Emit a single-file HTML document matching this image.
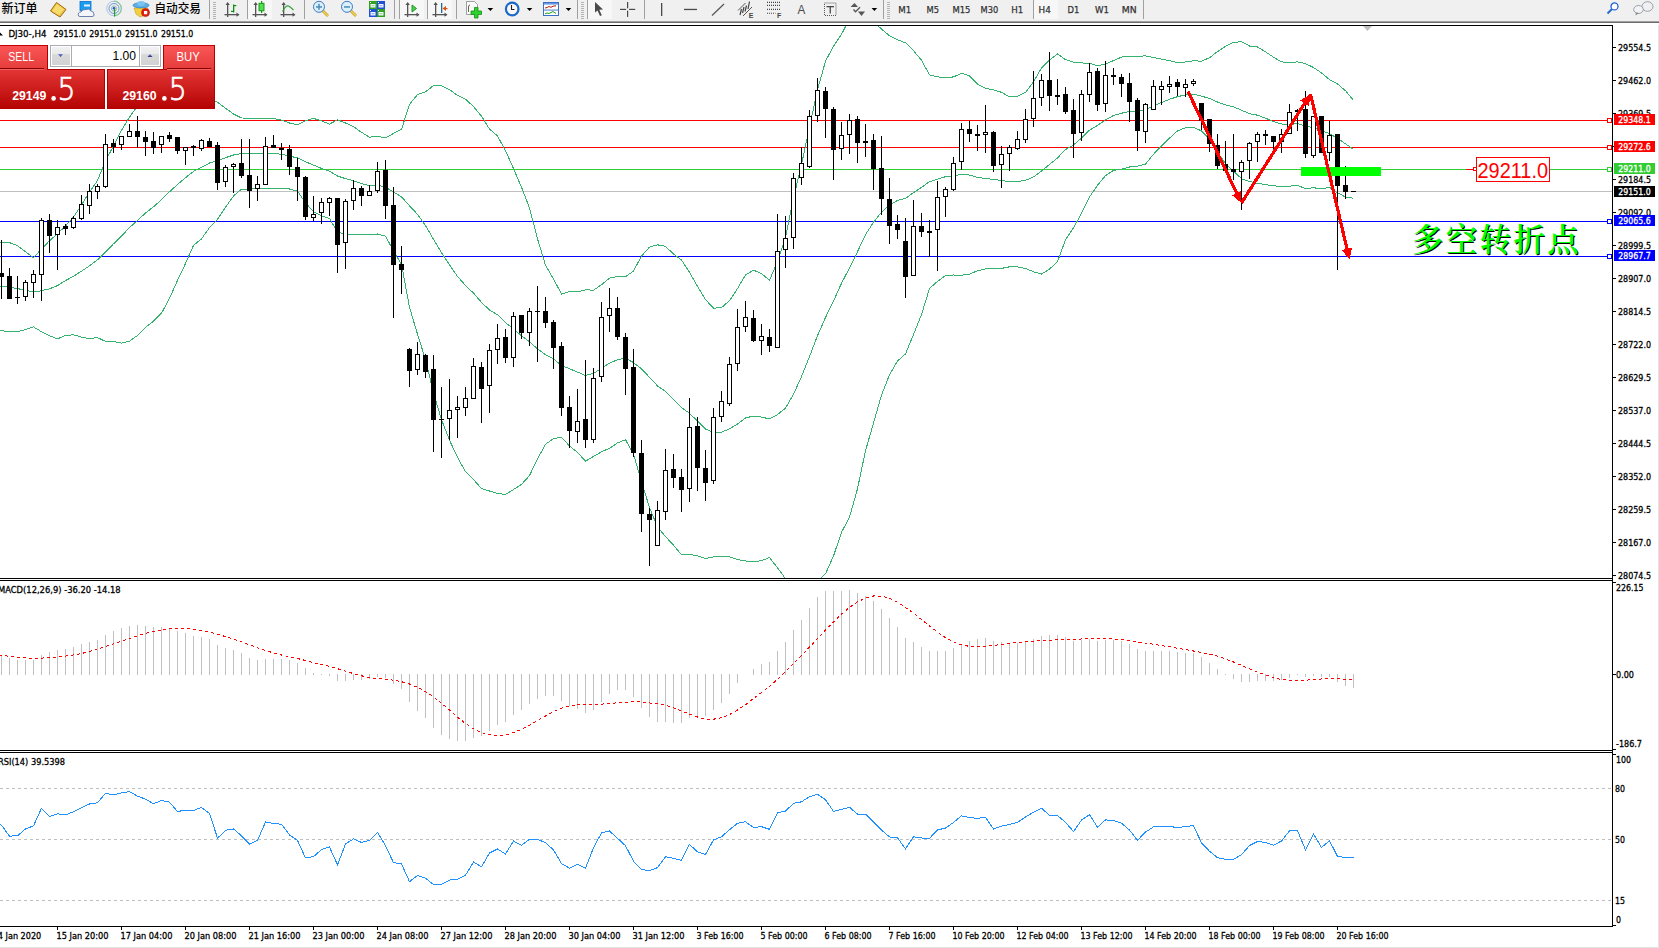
<!DOCTYPE html>
<html><head><meta charset="utf-8"><title>DJ30-,H4</title><style>html,body{margin:0;padding:0;background:#fff;overflow:hidden;width:1659px;height:948px;position:relative}</style></head><body>
<svg width="1659" height="948" viewBox="0 0 1659 948" style="position:absolute;left:0;top:0;display:block">
<rect x="0" y="0" width="1659" height="948" fill="#ffffff"/>
<defs><clipPath id="cm"><rect x="0" y="26" width="1612" height="552"/></clipPath><clipPath id="cd"><rect x="0" y="581" width="1612" height="169"/></clipPath><clipPath id="cr"><rect x="0" y="753" width="1612" height="173"/></clipPath><clipPath id="ct"><rect x="0" y="926" width="1658" height="21"/></clipPath></defs>
<g clip-path="url(#cm)" shape-rendering="crispEdges">
<rect x="0" y="120" width="1607" height="1" fill="#ff0000"/>
<rect x="0" y="147" width="1607" height="1" fill="#ff0000"/>
<rect x="0" y="169" width="1607" height="1" fill="#32cd32"/>
<rect x="0" y="191" width="1612" height="1" fill="#c0c0c0"/>
<rect x="0" y="221" width="1607" height="1" fill="#0000ff"/>
<rect x="0" y="256" width="1607" height="1" fill="#0000ff"/>
<polyline points="-6.5,242.1 1.5,242.1 9.5,242.6 17.5,245.6 25.5,251.8 33.5,257.7 41.5,248.9 49.5,240.8 57.5,233.7 65.5,225.9 73.5,217.1 81.5,205.0 89.5,191.9 97.5,180.6 105.5,160.7 113.5,146.0 121.5,130.4 129.5,117.1 137.5,106.2 145.5,98.7 153.5,92.6 161.5,86.5 169.5,85.3 177.5,88.6 185.5,92.0 193.5,97.4 201.5,95.9 209.5,98.4 217.5,102.3 225.5,108.2 233.5,114.0 241.5,118.0 249.5,118.1 257.5,118.4 265.5,118.5 273.5,118.6 281.5,120.1 289.5,123.0 297.5,124.8 305.5,120.6 313.5,118.4 321.5,120.8 329.5,124.1 337.5,119.8 345.5,123.0 353.5,126.7 361.5,132.3 369.5,137.2 377.5,136.2 385.5,138.0 393.5,133.4 401.5,129.4 409.5,104.4 417.5,94.5 425.5,91.8 433.5,85.6 441.5,85.9 449.5,89.6 457.5,95.4 465.5,99.2 473.5,106.5 481.5,116.2 489.5,129.1 497.5,135.9 505.5,150.7 513.5,168.6 521.5,187.2 529.5,208.0 537.5,238.8 545.5,265.2 553.5,279.0 561.5,294.0 569.5,291.5 577.5,291.8 585.5,289.8 593.5,290.2 601.5,284.7 609.5,278.1 617.5,276.4 625.5,276.7 633.5,271.0 641.5,256.1 649.5,247.1 657.5,244.8 665.5,246.4 673.5,254.0 681.5,260.0 689.5,272.3 697.5,286.3 705.5,299.5 713.5,308.2 721.5,307.6 729.5,300.7 737.5,288.6 745.5,275.0 753.5,270.2 761.5,273.6 769.5,280.3 777.5,261.5 785.5,237.4 793.5,198.0 801.5,164.6 809.5,126.9 817.5,89.9 825.5,61.2 833.5,46.2 841.5,34.4 849.5,18.6 857.5,14.6 865.5,18.6 873.5,21.6 881.5,29.1 889.5,35.7 897.5,39.8 905.5,42.8 913.5,50.7 921.5,60.2 929.5,74.9 937.5,76.8 945.5,77.8 953.5,76.9 961.5,73.3 969.5,75.9 977.5,84.2 985.5,88.3 993.5,89.9 1001.5,92.3 1009.5,96.8 1017.5,96.3 1025.5,92.4 1033.5,82.0 1041.5,67.9 1049.5,59.9 1057.5,53.9 1065.5,59.6 1073.5,62.2 1081.5,62.9 1089.5,63.4 1097.5,65.7 1105.5,64.0 1113.5,60.6 1121.5,57.1 1129.5,56.2 1137.5,56.4 1145.5,55.8 1153.5,57.6 1161.5,59.1 1169.5,60.6 1177.5,62.5 1185.5,62.0 1193.5,60.7 1201.5,61.3 1209.5,57.7 1217.5,51.6 1225.5,46.3 1233.5,42.4 1241.5,41.7 1249.5,46.0 1257.5,47.0 1265.5,51.9 1273.5,57.2 1281.5,61.8 1289.5,62.9 1297.5,61.8 1305.5,63.6 1313.5,67.5 1321.5,72.9 1329.5,79.6 1337.5,84.0 1345.5,90.7 1353.5,100.5" fill="none" stroke="#35b36e" stroke-width="1"/>
<polyline points="-6.5,286.0 1.5,286.0 9.5,287.2 17.5,288.6 25.5,290.3 33.5,292.0 41.5,290.7 49.5,288.8 57.5,285.6 65.5,280.6 73.5,276.2 81.5,271.2 89.5,265.9 97.5,259.8 105.5,252.0 113.5,243.8 121.5,236.1 129.5,227.6 137.5,220.5 145.5,213.0 153.5,206.8 161.5,199.8 169.5,191.8 177.5,184.5 185.5,177.7 193.5,171.4 201.5,167.4 209.5,163.0 217.5,160.8 225.5,157.7 233.5,155.0 241.5,153.6 249.5,153.5 257.5,153.4 265.5,153.5 273.5,153.6 281.5,154.2 289.5,156.0 297.5,158.0 305.5,161.7 313.5,165.1 321.5,168.4 329.5,171.3 337.5,176.0 345.5,178.7 353.5,180.7 361.5,183.5 369.5,185.7 377.5,185.1 385.5,187.0 393.5,192.1 401.5,196.8 409.5,205.8 417.5,214.3 425.5,225.6 433.5,239.2 441.5,252.8 449.5,264.9 457.5,276.4 465.5,285.5 473.5,293.1 481.5,302.4 489.5,310.0 497.5,314.7 505.5,322.6 513.5,329.0 521.5,335.8 529.5,341.8 537.5,348.8 545.5,354.7 553.5,358.8 561.5,365.7 569.5,368.7 577.5,372.1 585.5,375.5 593.5,373.4 601.5,368.3 609.5,363.2 617.5,359.7 625.5,358.2 633.5,362.6 641.5,368.8 649.5,377.3 657.5,385.9 665.5,391.5 673.5,399.6 681.5,407.5 689.5,413.3 697.5,421.1 705.5,429.0 713.5,432.5 721.5,432.2 729.5,428.8 737.5,424.1 745.5,417.9 753.5,416.1 761.5,417.1 769.5,418.9 777.5,414.6 785.5,408.1 793.5,394.3 801.5,376.7 809.5,356.6 817.5,335.6 825.5,317.5 833.5,301.1 841.5,283.3 849.5,267.9 857.5,251.7 865.5,234.7 873.5,222.3 881.5,212.1 889.5,205.2 897.5,200.4 905.5,198.4 913.5,192.6 921.5,187.4 929.5,181.7 937.5,179.1 945.5,176.7 953.5,175.9 961.5,174.2 969.5,175.1 977.5,177.4 985.5,178.6 993.5,179.4 1001.5,180.4 1009.5,181.8 1017.5,181.6 1025.5,180.4 1033.5,176.9 1041.5,171.0 1049.5,164.5 1057.5,157.9 1065.5,149.6 1073.5,145.0 1081.5,138.1 1089.5,130.1 1097.5,125.5 1105.5,119.8 1113.5,115.5 1121.5,113.2 1129.5,111.6 1137.5,111.3 1145.5,109.9 1153.5,105.9 1161.5,102.5 1169.5,99.3 1177.5,96.7 1185.5,94.9 1193.5,94.1 1201.5,96.1 1209.5,98.5 1217.5,102.0 1225.5,104.9 1233.5,106.8 1241.5,110.2 1249.5,113.7 1257.5,115.2 1265.5,118.2 1273.5,121.5 1281.5,124.0 1289.5,124.6 1297.5,123.6 1305.5,126.1 1313.5,127.6 1321.5,130.9 1329.5,133.5 1337.5,138.4 1345.5,143.8 1353.5,149.3" fill="none" stroke="#35b36e" stroke-width="1"/>
<polyline points="-6.5,330.7 1.5,330.7 9.5,331.6 17.5,331.8 25.5,329.6 33.5,326.9 41.5,331.7 49.5,335.8 57.5,338.9 65.5,335.5 73.5,334.8 81.5,337.1 89.5,338.6 97.5,337.6 105.5,341.4 113.5,341.4 121.5,343.1 129.5,341.3 137.5,335.4 145.5,327.4 153.5,321.1 161.5,313.2 169.5,298.4 177.5,280.3 185.5,263.5 193.5,245.4 201.5,238.9 209.5,227.6 217.5,219.2 225.5,207.2 233.5,196.0 241.5,189.1 249.5,189.0 257.5,188.5 265.5,188.5 273.5,188.5 281.5,188.4 289.5,189.0 297.5,191.1 305.5,202.9 313.5,211.7 321.5,215.9 329.5,218.5 337.5,232.2 345.5,234.3 353.5,234.7 361.5,234.6 369.5,234.2 377.5,234.0 385.5,236.1 393.5,250.8 401.5,264.3 409.5,307.3 417.5,334.2 425.5,359.5 433.5,392.9 441.5,419.6 449.5,440.2 457.5,457.4 465.5,471.8 473.5,479.6 481.5,488.6 489.5,491.0 497.5,493.5 505.5,494.4 513.5,489.5 521.5,484.4 529.5,475.6 537.5,458.9 545.5,444.3 553.5,438.7 561.5,437.3 569.5,446.0 577.5,452.4 585.5,461.2 593.5,456.5 601.5,451.8 609.5,448.3 617.5,442.9 625.5,439.7 633.5,454.1 641.5,481.6 649.5,507.5 657.5,527.0 665.5,536.6 673.5,545.2 681.5,554.9 689.5,554.2 697.5,555.9 705.5,558.6 713.5,556.9 721.5,556.8 729.5,556.9 737.5,559.6 745.5,560.9 753.5,561.9 761.5,560.5 769.5,557.6 777.5,567.8 785.5,578.7 793.5,590.5 801.5,588.9 809.5,586.2 817.5,581.2 825.5,573.8 833.5,556.0 841.5,532.3 849.5,517.3 857.5,488.8 865.5,450.8 873.5,422.9 881.5,395.2 889.5,374.7 897.5,361.0 905.5,353.9 913.5,334.6 921.5,314.6 929.5,288.5 937.5,281.4 945.5,275.5 953.5,275.0 961.5,275.2 969.5,274.3 977.5,270.7 985.5,268.9 993.5,269.0 1001.5,268.4 1009.5,266.8 1017.5,266.9 1025.5,268.4 1033.5,271.8 1041.5,274.0 1049.5,269.1 1057.5,261.8 1065.5,239.6 1073.5,227.9 1081.5,213.4 1089.5,196.9 1097.5,185.3 1105.5,175.6 1113.5,170.4 1121.5,169.3 1129.5,167.0 1137.5,166.2 1145.5,164.0 1153.5,154.3 1161.5,145.9 1169.5,138.1 1177.5,130.9 1185.5,127.8 1193.5,127.4 1201.5,130.9 1209.5,139.3 1217.5,152.3 1225.5,163.5 1233.5,171.1 1241.5,178.7 1249.5,181.4 1257.5,183.4 1265.5,184.5 1273.5,185.9 1281.5,186.3 1289.5,186.2 1297.5,185.4 1305.5,188.6 1313.5,187.7 1321.5,188.9 1329.5,187.3 1337.5,192.8 1345.5,197.0 1353.5,198.2" fill="none" stroke="#35b36e" stroke-width="1"/>
<rect x="1" y="240" width="1" height="59" fill="#000"/>
<rect x="-1" y="273" width="5" height="4" fill="#000"/>
<rect x="9" y="268" width="1" height="31" fill="#000"/>
<rect x="7" y="276" width="5" height="23" fill="#000"/>
<rect x="17" y="276" width="1" height="28" fill="#000"/>
<rect x="15" y="297" width="5" height="1" fill="#000"/>
<rect x="25" y="280" width="1" height="21" fill="#000"/>
<rect x="23" y="282" width="5" height="15" fill="#000"/>
<rect x="24" y="283" width="3" height="13" fill="#fff"/>
<rect x="33" y="270" width="1" height="28" fill="#000"/>
<rect x="31" y="274" width="5" height="9" fill="#000"/>
<rect x="32" y="275" width="3" height="7" fill="#fff"/>
<rect x="41" y="218" width="1" height="83" fill="#000"/>
<rect x="39" y="220" width="5" height="55" fill="#000"/>
<rect x="40" y="221" width="3" height="53" fill="#fff"/>
<rect x="49" y="214" width="1" height="39" fill="#000"/>
<rect x="47" y="220" width="5" height="16" fill="#000"/>
<rect x="57" y="220" width="1" height="50" fill="#000"/>
<rect x="55" y="227" width="5" height="8" fill="#000"/>
<rect x="56" y="228" width="3" height="6" fill="#fff"/>
<rect x="65" y="224" width="1" height="11" fill="#000"/>
<rect x="63" y="226" width="5" height="3" fill="#000"/>
<rect x="73" y="216" width="1" height="13" fill="#000"/>
<rect x="71" y="218" width="5" height="10" fill="#000"/>
<rect x="72" y="219" width="3" height="8" fill="#fff"/>
<rect x="81" y="195" width="1" height="25" fill="#000"/>
<rect x="79" y="204" width="5" height="15" fill="#000"/>
<rect x="80" y="205" width="3" height="13" fill="#fff"/>
<rect x="89" y="184" width="1" height="30" fill="#000"/>
<rect x="87" y="191" width="5" height="15" fill="#000"/>
<rect x="88" y="192" width="3" height="13" fill="#fff"/>
<rect x="97" y="184" width="1" height="15" fill="#000"/>
<rect x="95" y="186" width="5" height="6" fill="#000"/>
<rect x="96" y="187" width="3" height="4" fill="#fff"/>
<rect x="105" y="134" width="1" height="54" fill="#000"/>
<rect x="103" y="144" width="5" height="43" fill="#000"/>
<rect x="104" y="145" width="3" height="41" fill="#fff"/>
<rect x="113" y="139" width="1" height="14" fill="#000"/>
<rect x="111" y="143" width="5" height="4" fill="#000"/>
<rect x="121" y="136" width="1" height="14" fill="#000"/>
<rect x="119" y="136" width="5" height="9" fill="#000"/>
<rect x="120" y="137" width="3" height="7" fill="#fff"/>
<rect x="129" y="124" width="1" height="13" fill="#000"/>
<rect x="127" y="131" width="5" height="6" fill="#000"/>
<rect x="128" y="132" width="3" height="4" fill="#fff"/>
<rect x="137" y="116" width="1" height="32" fill="#000"/>
<rect x="135" y="131" width="5" height="6" fill="#000"/>
<rect x="145" y="131" width="1" height="25" fill="#000"/>
<rect x="143" y="137" width="5" height="5" fill="#000"/>
<rect x="153" y="132" width="1" height="22" fill="#000"/>
<rect x="151" y="141" width="5" height="7" fill="#000"/>
<rect x="161" y="136" width="1" height="17" fill="#000"/>
<rect x="159" y="136" width="5" height="9" fill="#000"/>
<rect x="160" y="137" width="3" height="7" fill="#fff"/>
<rect x="169" y="132" width="1" height="10" fill="#000"/>
<rect x="167" y="135" width="5" height="4" fill="#000"/>
<rect x="177" y="137" width="1" height="17" fill="#000"/>
<rect x="175" y="137" width="5" height="14" fill="#000"/>
<rect x="185" y="147" width="1" height="18" fill="#000"/>
<rect x="183" y="147" width="5" height="4" fill="#000"/>
<rect x="184" y="148" width="3" height="2" fill="#fff"/>
<rect x="193" y="145" width="1" height="11" fill="#000"/>
<rect x="191" y="146" width="5" height="2" fill="#000"/>
<rect x="201" y="139" width="1" height="12" fill="#000"/>
<rect x="199" y="140" width="5" height="9" fill="#000"/>
<rect x="200" y="141" width="3" height="7" fill="#fff"/>
<rect x="209" y="138" width="1" height="9" fill="#000"/>
<rect x="207" y="141" width="5" height="6" fill="#000"/>
<rect x="217" y="142" width="1" height="48" fill="#000"/>
<rect x="215" y="145" width="5" height="38" fill="#000"/>
<rect x="225" y="165" width="1" height="22" fill="#000"/>
<rect x="223" y="167" width="5" height="15" fill="#000"/>
<rect x="224" y="168" width="3" height="13" fill="#fff"/>
<rect x="233" y="163" width="1" height="30" fill="#000"/>
<rect x="231" y="164" width="5" height="3" fill="#000"/>
<rect x="232" y="165" width="3" height="1" fill="#fff"/>
<rect x="241" y="139" width="1" height="39" fill="#000"/>
<rect x="239" y="163" width="5" height="13" fill="#000"/>
<rect x="249" y="139" width="1" height="69" fill="#000"/>
<rect x="247" y="175" width="5" height="16" fill="#000"/>
<rect x="257" y="176" width="1" height="25" fill="#000"/>
<rect x="255" y="184" width="5" height="5" fill="#000"/>
<rect x="256" y="185" width="3" height="3" fill="#fff"/>
<rect x="265" y="137" width="1" height="48" fill="#000"/>
<rect x="263" y="146" width="5" height="39" fill="#000"/>
<rect x="264" y="147" width="3" height="37" fill="#fff"/>
<rect x="273" y="135" width="1" height="13" fill="#000"/>
<rect x="271" y="145" width="5" height="3" fill="#000"/>
<rect x="281" y="143" width="1" height="17" fill="#000"/>
<rect x="279" y="148" width="5" height="2" fill="#000"/>
<rect x="289" y="145" width="1" height="30" fill="#000"/>
<rect x="287" y="149" width="5" height="18" fill="#000"/>
<rect x="297" y="158" width="1" height="43" fill="#000"/>
<rect x="295" y="167" width="5" height="10" fill="#000"/>
<rect x="305" y="176" width="1" height="44" fill="#000"/>
<rect x="303" y="177" width="5" height="40" fill="#000"/>
<rect x="313" y="196" width="1" height="25" fill="#000"/>
<rect x="311" y="214" width="5" height="4" fill="#000"/>
<rect x="312" y="215" width="3" height="2" fill="#fff"/>
<rect x="321" y="198" width="1" height="26" fill="#000"/>
<rect x="319" y="202" width="5" height="11" fill="#000"/>
<rect x="320" y="203" width="3" height="9" fill="#fff"/>
<rect x="329" y="197" width="1" height="19" fill="#000"/>
<rect x="327" y="198" width="5" height="5" fill="#000"/>
<rect x="328" y="199" width="3" height="3" fill="#fff"/>
<rect x="337" y="198" width="1" height="75" fill="#000"/>
<rect x="335" y="198" width="5" height="47" fill="#000"/>
<rect x="345" y="199" width="1" height="70" fill="#000"/>
<rect x="343" y="201" width="5" height="42" fill="#000"/>
<rect x="344" y="202" width="3" height="40" fill="#fff"/>
<rect x="353" y="180" width="1" height="30" fill="#000"/>
<rect x="351" y="188" width="5" height="13" fill="#000"/>
<rect x="352" y="189" width="3" height="11" fill="#fff"/>
<rect x="361" y="186" width="1" height="20" fill="#000"/>
<rect x="359" y="188" width="5" height="8" fill="#000"/>
<rect x="369" y="185" width="1" height="11" fill="#000"/>
<rect x="367" y="191" width="5" height="5" fill="#000"/>
<rect x="368" y="192" width="3" height="3" fill="#fff"/>
<rect x="377" y="162" width="1" height="31" fill="#000"/>
<rect x="375" y="171" width="5" height="20" fill="#000"/>
<rect x="376" y="172" width="3" height="18" fill="#fff"/>
<rect x="385" y="160" width="1" height="59" fill="#000"/>
<rect x="383" y="170" width="5" height="36" fill="#000"/>
<rect x="393" y="187" width="1" height="131" fill="#000"/>
<rect x="391" y="205" width="5" height="60" fill="#000"/>
<rect x="401" y="246" width="1" height="48" fill="#000"/>
<rect x="399" y="264" width="5" height="6" fill="#000"/>
<rect x="409" y="348" width="1" height="39" fill="#000"/>
<rect x="407" y="349" width="5" height="22" fill="#000"/>
<rect x="417" y="342" width="1" height="33" fill="#000"/>
<rect x="415" y="354" width="5" height="16" fill="#000"/>
<rect x="416" y="355" width="3" height="14" fill="#fff"/>
<rect x="425" y="354" width="1" height="24" fill="#000"/>
<rect x="423" y="355" width="5" height="17" fill="#000"/>
<rect x="433" y="355" width="1" height="97" fill="#000"/>
<rect x="431" y="369" width="5" height="51" fill="#000"/>
<rect x="441" y="387" width="1" height="71" fill="#000"/>
<rect x="439" y="419" width="5" height="1" fill="#000"/>
<rect x="449" y="379" width="1" height="61" fill="#000"/>
<rect x="447" y="410" width="5" height="9" fill="#000"/>
<rect x="448" y="411" width="3" height="7" fill="#fff"/>
<rect x="457" y="396" width="1" height="42" fill="#000"/>
<rect x="455" y="407" width="5" height="3" fill="#000"/>
<rect x="456" y="408" width="3" height="1" fill="#fff"/>
<rect x="465" y="387" width="1" height="29" fill="#000"/>
<rect x="463" y="398" width="5" height="10" fill="#000"/>
<rect x="464" y="399" width="3" height="8" fill="#fff"/>
<rect x="473" y="358" width="1" height="41" fill="#000"/>
<rect x="471" y="366" width="5" height="33" fill="#000"/>
<rect x="472" y="367" width="3" height="31" fill="#fff"/>
<rect x="481" y="362" width="1" height="61" fill="#000"/>
<rect x="479" y="367" width="5" height="22" fill="#000"/>
<rect x="489" y="344" width="1" height="69" fill="#000"/>
<rect x="487" y="350" width="5" height="36" fill="#000"/>
<rect x="488" y="351" width="3" height="34" fill="#fff"/>
<rect x="497" y="324" width="1" height="40" fill="#000"/>
<rect x="495" y="338" width="5" height="12" fill="#000"/>
<rect x="496" y="339" width="3" height="10" fill="#fff"/>
<rect x="505" y="329" width="1" height="34" fill="#000"/>
<rect x="503" y="337" width="5" height="21" fill="#000"/>
<rect x="513" y="312" width="1" height="55" fill="#000"/>
<rect x="511" y="316" width="5" height="42" fill="#000"/>
<rect x="512" y="317" width="3" height="40" fill="#fff"/>
<rect x="521" y="315" width="1" height="24" fill="#000"/>
<rect x="519" y="315" width="5" height="18" fill="#000"/>
<rect x="529" y="308" width="1" height="38" fill="#000"/>
<rect x="527" y="311" width="5" height="22" fill="#000"/>
<rect x="528" y="312" width="3" height="20" fill="#fff"/>
<rect x="537" y="286" width="1" height="76" fill="#000"/>
<rect x="535" y="311" width="5" height="1" fill="#000"/>
<rect x="545" y="297" width="1" height="31" fill="#000"/>
<rect x="543" y="311" width="5" height="12" fill="#000"/>
<rect x="553" y="320" width="1" height="49" fill="#000"/>
<rect x="551" y="322" width="5" height="26" fill="#000"/>
<rect x="561" y="342" width="1" height="74" fill="#000"/>
<rect x="559" y="346" width="5" height="62" fill="#000"/>
<rect x="569" y="396" width="1" height="52" fill="#000"/>
<rect x="567" y="407" width="5" height="24" fill="#000"/>
<rect x="577" y="389" width="1" height="54" fill="#000"/>
<rect x="575" y="421" width="5" height="11" fill="#000"/>
<rect x="576" y="422" width="3" height="9" fill="#fff"/>
<rect x="585" y="360" width="1" height="88" fill="#000"/>
<rect x="583" y="419" width="5" height="21" fill="#000"/>
<rect x="593" y="368" width="1" height="75" fill="#000"/>
<rect x="591" y="378" width="5" height="62" fill="#000"/>
<rect x="592" y="379" width="3" height="60" fill="#fff"/>
<rect x="601" y="302" width="1" height="80" fill="#000"/>
<rect x="599" y="317" width="5" height="60" fill="#000"/>
<rect x="600" y="318" width="3" height="58" fill="#fff"/>
<rect x="609" y="288" width="1" height="44" fill="#000"/>
<rect x="607" y="308" width="5" height="8" fill="#000"/>
<rect x="608" y="309" width="3" height="6" fill="#fff"/>
<rect x="617" y="297" width="1" height="43" fill="#000"/>
<rect x="615" y="308" width="5" height="29" fill="#000"/>
<rect x="625" y="333" width="1" height="62" fill="#000"/>
<rect x="623" y="337" width="5" height="32" fill="#000"/>
<rect x="633" y="349" width="1" height="108" fill="#000"/>
<rect x="631" y="367" width="5" height="86" fill="#000"/>
<rect x="641" y="440" width="1" height="92" fill="#000"/>
<rect x="639" y="453" width="5" height="61" fill="#000"/>
<rect x="649" y="508" width="1" height="58" fill="#000"/>
<rect x="647" y="514" width="5" height="6" fill="#000"/>
<rect x="657" y="501" width="1" height="45" fill="#000"/>
<rect x="655" y="510" width="5" height="36" fill="#000"/>
<rect x="656" y="511" width="3" height="34" fill="#fff"/>
<rect x="665" y="449" width="1" height="71" fill="#000"/>
<rect x="663" y="470" width="5" height="42" fill="#000"/>
<rect x="664" y="471" width="3" height="40" fill="#fff"/>
<rect x="673" y="454" width="1" height="34" fill="#000"/>
<rect x="671" y="469" width="5" height="9" fill="#000"/>
<rect x="681" y="469" width="1" height="43" fill="#000"/>
<rect x="679" y="477" width="5" height="13" fill="#000"/>
<rect x="689" y="398" width="1" height="104" fill="#000"/>
<rect x="687" y="427" width="5" height="62" fill="#000"/>
<rect x="688" y="428" width="3" height="60" fill="#fff"/>
<rect x="697" y="417" width="1" height="74" fill="#000"/>
<rect x="695" y="426" width="5" height="42" fill="#000"/>
<rect x="705" y="450" width="1" height="51" fill="#000"/>
<rect x="703" y="468" width="5" height="15" fill="#000"/>
<rect x="713" y="408" width="1" height="76" fill="#000"/>
<rect x="711" y="417" width="5" height="64" fill="#000"/>
<rect x="712" y="418" width="3" height="62" fill="#fff"/>
<rect x="721" y="391" width="1" height="31" fill="#000"/>
<rect x="719" y="401" width="5" height="16" fill="#000"/>
<rect x="720" y="402" width="3" height="14" fill="#fff"/>
<rect x="729" y="357" width="1" height="49" fill="#000"/>
<rect x="727" y="364" width="5" height="40" fill="#000"/>
<rect x="728" y="365" width="3" height="38" fill="#fff"/>
<rect x="737" y="309" width="1" height="62" fill="#000"/>
<rect x="735" y="327" width="5" height="37" fill="#000"/>
<rect x="736" y="328" width="3" height="35" fill="#fff"/>
<rect x="745" y="301" width="1" height="31" fill="#000"/>
<rect x="743" y="317" width="5" height="10" fill="#000"/>
<rect x="744" y="318" width="3" height="8" fill="#fff"/>
<rect x="753" y="310" width="1" height="32" fill="#000"/>
<rect x="751" y="318" width="5" height="23" fill="#000"/>
<rect x="761" y="324" width="1" height="31" fill="#000"/>
<rect x="759" y="336" width="5" height="5" fill="#000"/>
<rect x="760" y="337" width="3" height="3" fill="#fff"/>
<rect x="769" y="329" width="1" height="23" fill="#000"/>
<rect x="767" y="337" width="5" height="9" fill="#000"/>
<rect x="777" y="214" width="1" height="134" fill="#000"/>
<rect x="775" y="251" width="5" height="97" fill="#000"/>
<rect x="776" y="252" width="3" height="95" fill="#fff"/>
<rect x="785" y="216" width="1" height="52" fill="#000"/>
<rect x="783" y="238" width="5" height="12" fill="#000"/>
<rect x="784" y="239" width="3" height="10" fill="#fff"/>
<rect x="793" y="173" width="1" height="76" fill="#000"/>
<rect x="791" y="178" width="5" height="60" fill="#000"/>
<rect x="792" y="179" width="3" height="58" fill="#fff"/>
<rect x="801" y="147" width="1" height="38" fill="#000"/>
<rect x="799" y="163" width="5" height="15" fill="#000"/>
<rect x="800" y="164" width="3" height="13" fill="#fff"/>
<rect x="809" y="110" width="1" height="58" fill="#000"/>
<rect x="807" y="116" width="5" height="51" fill="#000"/>
<rect x="808" y="117" width="3" height="49" fill="#fff"/>
<rect x="817" y="78" width="1" height="44" fill="#000"/>
<rect x="815" y="90" width="5" height="26" fill="#000"/>
<rect x="816" y="91" width="3" height="24" fill="#fff"/>
<rect x="825" y="87" width="1" height="51" fill="#000"/>
<rect x="823" y="91" width="5" height="18" fill="#000"/>
<rect x="833" y="107" width="1" height="73" fill="#000"/>
<rect x="831" y="109" width="5" height="41" fill="#000"/>
<rect x="841" y="122" width="1" height="38" fill="#000"/>
<rect x="839" y="135" width="5" height="14" fill="#000"/>
<rect x="840" y="136" width="3" height="12" fill="#fff"/>
<rect x="849" y="114" width="1" height="40" fill="#000"/>
<rect x="847" y="120" width="5" height="15" fill="#000"/>
<rect x="848" y="121" width="3" height="13" fill="#fff"/>
<rect x="857" y="116" width="1" height="47" fill="#000"/>
<rect x="855" y="119" width="5" height="24" fill="#000"/>
<rect x="865" y="124" width="1" height="33" fill="#000"/>
<rect x="863" y="141" width="5" height="2" fill="#000"/>
<rect x="873" y="134" width="1" height="56" fill="#000"/>
<rect x="871" y="140" width="5" height="29" fill="#000"/>
<rect x="881" y="136" width="1" height="79" fill="#000"/>
<rect x="879" y="168" width="5" height="31" fill="#000"/>
<rect x="889" y="178" width="1" height="66" fill="#000"/>
<rect x="887" y="199" width="5" height="27" fill="#000"/>
<rect x="897" y="215" width="1" height="24" fill="#000"/>
<rect x="895" y="224" width="5" height="6" fill="#000"/>
<rect x="905" y="218" width="1" height="80" fill="#000"/>
<rect x="903" y="241" width="5" height="36" fill="#000"/>
<rect x="913" y="200" width="1" height="76" fill="#000"/>
<rect x="911" y="226" width="5" height="50" fill="#000"/>
<rect x="912" y="227" width="3" height="48" fill="#fff"/>
<rect x="921" y="213" width="1" height="24" fill="#000"/>
<rect x="919" y="226" width="5" height="6" fill="#000"/>
<rect x="929" y="220" width="1" height="37" fill="#000"/>
<rect x="927" y="231" width="5" height="2" fill="#000"/>
<rect x="937" y="181" width="1" height="90" fill="#000"/>
<rect x="935" y="197" width="5" height="33" fill="#000"/>
<rect x="936" y="198" width="3" height="31" fill="#fff"/>
<rect x="945" y="187" width="1" height="30" fill="#000"/>
<rect x="943" y="189" width="5" height="8" fill="#000"/>
<rect x="944" y="190" width="3" height="6" fill="#fff"/>
<rect x="953" y="157" width="1" height="34" fill="#000"/>
<rect x="951" y="163" width="5" height="27" fill="#000"/>
<rect x="952" y="164" width="3" height="25" fill="#fff"/>
<rect x="961" y="123" width="1" height="47" fill="#000"/>
<rect x="959" y="129" width="5" height="33" fill="#000"/>
<rect x="960" y="130" width="3" height="31" fill="#fff"/>
<rect x="969" y="121" width="1" height="21" fill="#000"/>
<rect x="967" y="129" width="5" height="5" fill="#000"/>
<rect x="977" y="125" width="1" height="26" fill="#000"/>
<rect x="975" y="134" width="5" height="2" fill="#000"/>
<rect x="985" y="105" width="1" height="48" fill="#000"/>
<rect x="983" y="132" width="5" height="3" fill="#000"/>
<rect x="984" y="133" width="3" height="1" fill="#fff"/>
<rect x="993" y="131" width="1" height="41" fill="#000"/>
<rect x="991" y="132" width="5" height="34" fill="#000"/>
<rect x="1001" y="146" width="1" height="42" fill="#000"/>
<rect x="999" y="154" width="5" height="11" fill="#000"/>
<rect x="1000" y="155" width="3" height="9" fill="#fff"/>
<rect x="1009" y="145" width="1" height="26" fill="#000"/>
<rect x="1007" y="147" width="5" height="7" fill="#000"/>
<rect x="1008" y="148" width="3" height="5" fill="#fff"/>
<rect x="1017" y="131" width="1" height="19" fill="#000"/>
<rect x="1015" y="139" width="5" height="10" fill="#000"/>
<rect x="1016" y="140" width="3" height="8" fill="#fff"/>
<rect x="1025" y="109" width="1" height="34" fill="#000"/>
<rect x="1023" y="119" width="5" height="21" fill="#000"/>
<rect x="1024" y="120" width="3" height="19" fill="#fff"/>
<rect x="1033" y="71" width="1" height="56" fill="#000"/>
<rect x="1031" y="98" width="5" height="21" fill="#000"/>
<rect x="1032" y="99" width="3" height="19" fill="#fff"/>
<rect x="1041" y="74" width="1" height="32" fill="#000"/>
<rect x="1039" y="80" width="5" height="18" fill="#000"/>
<rect x="1040" y="81" width="3" height="16" fill="#fff"/>
<rect x="1049" y="52" width="1" height="59" fill="#000"/>
<rect x="1047" y="80" width="5" height="16" fill="#000"/>
<rect x="1057" y="79" width="1" height="26" fill="#000"/>
<rect x="1055" y="95" width="5" height="2" fill="#000"/>
<rect x="1065" y="87" width="1" height="27" fill="#000"/>
<rect x="1063" y="94" width="5" height="18" fill="#000"/>
<rect x="1073" y="99" width="1" height="59" fill="#000"/>
<rect x="1071" y="110" width="5" height="24" fill="#000"/>
<rect x="1081" y="90" width="1" height="51" fill="#000"/>
<rect x="1079" y="94" width="5" height="39" fill="#000"/>
<rect x="1080" y="95" width="3" height="37" fill="#fff"/>
<rect x="1089" y="63" width="1" height="39" fill="#000"/>
<rect x="1087" y="72" width="5" height="23" fill="#000"/>
<rect x="1088" y="73" width="3" height="21" fill="#fff"/>
<rect x="1097" y="68" width="1" height="43" fill="#000"/>
<rect x="1095" y="71" width="5" height="34" fill="#000"/>
<rect x="1105" y="61" width="1" height="51" fill="#000"/>
<rect x="1103" y="75" width="5" height="29" fill="#000"/>
<rect x="1104" y="76" width="3" height="27" fill="#fff"/>
<rect x="1113" y="68" width="1" height="17" fill="#000"/>
<rect x="1111" y="75" width="5" height="2" fill="#000"/>
<rect x="1121" y="74" width="1" height="23" fill="#000"/>
<rect x="1119" y="77" width="5" height="7" fill="#000"/>
<rect x="1129" y="73" width="1" height="49" fill="#000"/>
<rect x="1127" y="83" width="5" height="19" fill="#000"/>
<rect x="1137" y="98" width="1" height="53" fill="#000"/>
<rect x="1135" y="100" width="5" height="31" fill="#000"/>
<rect x="1145" y="103" width="1" height="40" fill="#000"/>
<rect x="1143" y="104" width="5" height="28" fill="#000"/>
<rect x="1144" y="105" width="3" height="26" fill="#fff"/>
<rect x="1153" y="80" width="1" height="30" fill="#000"/>
<rect x="1151" y="86" width="5" height="24" fill="#000"/>
<rect x="1152" y="87" width="3" height="22" fill="#fff"/>
<rect x="1161" y="81" width="1" height="24" fill="#000"/>
<rect x="1159" y="86" width="5" height="4" fill="#000"/>
<rect x="1160" y="87" width="3" height="2" fill="#fff"/>
<rect x="1169" y="76" width="1" height="17" fill="#000"/>
<rect x="1167" y="84" width="5" height="3" fill="#000"/>
<rect x="1168" y="85" width="3" height="1" fill="#fff"/>
<rect x="1177" y="79" width="1" height="17" fill="#000"/>
<rect x="1175" y="82" width="5" height="5" fill="#000"/>
<rect x="1185" y="79" width="1" height="18" fill="#000"/>
<rect x="1183" y="84" width="5" height="4" fill="#000"/>
<rect x="1184" y="85" width="3" height="2" fill="#fff"/>
<rect x="1193" y="79" width="1" height="7" fill="#000"/>
<rect x="1191" y="81" width="5" height="3" fill="#000"/>
<rect x="1192" y="82" width="3" height="1" fill="#fff"/>
<rect x="1201" y="103" width="1" height="27" fill="#000"/>
<rect x="1199" y="103" width="5" height="18" fill="#000"/>
<rect x="1209" y="119" width="1" height="33" fill="#000"/>
<rect x="1207" y="119" width="5" height="25" fill="#000"/>
<rect x="1217" y="134" width="1" height="35" fill="#000"/>
<rect x="1215" y="145" width="5" height="21" fill="#000"/>
<rect x="1225" y="141" width="1" height="32" fill="#000"/>
<rect x="1223" y="164" width="5" height="7" fill="#000"/>
<rect x="1233" y="134" width="1" height="46" fill="#000"/>
<rect x="1231" y="169" width="5" height="3" fill="#000"/>
<rect x="1241" y="160" width="1" height="50" fill="#000"/>
<rect x="1239" y="162" width="5" height="10" fill="#000"/>
<rect x="1240" y="163" width="3" height="8" fill="#fff"/>
<rect x="1249" y="142" width="1" height="37" fill="#000"/>
<rect x="1247" y="143" width="5" height="18" fill="#000"/>
<rect x="1248" y="144" width="3" height="16" fill="#fff"/>
<rect x="1257" y="132" width="1" height="30" fill="#000"/>
<rect x="1255" y="134" width="5" height="8" fill="#000"/>
<rect x="1256" y="135" width="3" height="6" fill="#fff"/>
<rect x="1265" y="130" width="1" height="15" fill="#000"/>
<rect x="1263" y="134" width="5" height="2" fill="#000"/>
<rect x="1273" y="136" width="1" height="15" fill="#000"/>
<rect x="1271" y="136" width="5" height="6" fill="#000"/>
<rect x="1281" y="129" width="1" height="24" fill="#000"/>
<rect x="1279" y="134" width="5" height="8" fill="#000"/>
<rect x="1280" y="135" width="3" height="6" fill="#fff"/>
<rect x="1289" y="104" width="1" height="30" fill="#000"/>
<rect x="1287" y="112" width="5" height="22" fill="#000"/>
<rect x="1288" y="113" width="3" height="20" fill="#fff"/>
<rect x="1297" y="109" width="1" height="22" fill="#000"/>
<rect x="1295" y="110" width="5" height="2" fill="#000"/>
<rect x="1305" y="91" width="1" height="67" fill="#000"/>
<rect x="1303" y="109" width="5" height="45" fill="#000"/>
<rect x="1313" y="116" width="1" height="42" fill="#000"/>
<rect x="1311" y="116" width="5" height="40" fill="#000"/>
<rect x="1312" y="117" width="3" height="38" fill="#fff"/>
<rect x="1321" y="116" width="1" height="37" fill="#000"/>
<rect x="1319" y="116" width="5" height="37" fill="#000"/>
<rect x="1329" y="121" width="1" height="40" fill="#000"/>
<rect x="1327" y="135" width="5" height="18" fill="#000"/>
<rect x="1328" y="136" width="3" height="16" fill="#fff"/>
<rect x="1337" y="134" width="1" height="136" fill="#000"/>
<rect x="1335" y="134" width="5" height="52" fill="#000"/>
<rect x="1345" y="166" width="1" height="33" fill="#000"/>
<rect x="1343" y="185" width="5" height="7" fill="#000"/>
<rect x="1351" y="191" width="5" height="1" fill="#000"/>
<rect x="1607.5" y="118.5" width="4" height="4" fill="#fff" stroke="#ff0000" stroke-width="1"/>
<rect x="1607.5" y="145.5" width="4" height="4" fill="#fff" stroke="#ff0000" stroke-width="1"/>
<rect x="1607.5" y="167.5" width="4" height="4" fill="#fff" stroke="#32cd32" stroke-width="1"/>
<rect x="1607.5" y="219.5" width="4" height="4" fill="#fff" stroke="#0000ff" stroke-width="1"/>
<rect x="1607.5" y="254.5" width="4" height="4" fill="#fff" stroke="#0000ff" stroke-width="1"/>
</g>
<rect x="1301" y="167" width="80" height="9" fill="#00ff00" shape-rendering="crispEdges"/>
<g shape-rendering="crispEdges">
<line x1="1188" y1="91.5" x2="1237.6" y2="194.9" stroke="#ff0000" stroke-width="3.2" stroke-linecap="butt"/><polygon points="1241.5,203 1232.1,195.3 1241.4,190.8" fill="#ff0000"/>
<line x1="1241.5" y1="203" x2="1305.7" y2="101.6" stroke="#ff0000" stroke-width="3.2" stroke-linecap="butt"/><polygon points="1310.5,94 1309.0,106.1 1300.2,100.5" fill="#ff0000"/>
<line x1="1310.5" y1="94" x2="1347.4" y2="250.7" stroke="#ff0000" stroke-width="3.2" stroke-linecap="butt"/><polygon points="1349.5,259.5 1341.9,250.0 1352.0,247.6" fill="#ff0000"/>
</g>
<rect x="1466" y="169" width="8" height="1" fill="#ff0000" shape-rendering="crispEdges"/>
<rect x="1473.5" y="167.5" width="3" height="3" fill="#fff" stroke="#ff0000" stroke-width="1" shape-rendering="crispEdges"/>
<rect x="1476.5" y="157.5" width="73" height="24" fill="#fff" stroke="#ff0000" stroke-width="1" shape-rendering="crispEdges"/>
<text x="1477.5" y="178" font-family="&quot;Liberation Sans&quot;, Arial, sans-serif" font-size="22" fill="#ff0000" textLength="70.5" lengthAdjust="spacingAndGlyphs">29211.0</text>
<text x="1412.8" y="252" font-family="&quot;Liberation Serif&quot;, &quot;Noto Serif CJK SC&quot;, serif" font-size="31.5" fill="#000" textLength="167" font-weight="600" lengthAdjust="spacing">多空转折点</text>
<text x="1411.8" y="251" font-family="&quot;Liberation Serif&quot;, &quot;Noto Serif CJK SC&quot;, serif" font-size="31.5" fill="#00ff00" textLength="167" font-weight="600" lengthAdjust="spacing">多空转折点</text>
<polygon points="1363,26 1372,26 1367.5,31" fill="#c0c0c0"/>
<polygon points="0,32.5 3,35.5 0,35.5" fill="#000"/>
<text x="8.4" y="37" font-family="&quot;DejaVu Sans&quot;, &quot;Liberation Sans&quot;, sans-serif" font-size="9" fill="#000" stroke="#000" stroke-width="0.3" textLength="38" lengthAdjust="spacingAndGlyphs">DJ30-,H4</text>
<text x="53.6" y="37" font-family="&quot;DejaVu Sans&quot;, &quot;Liberation Sans&quot;, sans-serif" font-size="9" fill="#000" stroke="#000" stroke-width="0.3" textLength="32.4" lengthAdjust="spacingAndGlyphs">29151.0</text>
<text x="89.2" y="37" font-family="&quot;DejaVu Sans&quot;, &quot;Liberation Sans&quot;, sans-serif" font-size="9" fill="#000" stroke="#000" stroke-width="0.3" textLength="32.4" lengthAdjust="spacingAndGlyphs">29151.0</text>
<text x="125.1" y="37" font-family="&quot;DejaVu Sans&quot;, &quot;Liberation Sans&quot;, sans-serif" font-size="9" fill="#000" stroke="#000" stroke-width="0.3" textLength="32.4" lengthAdjust="spacingAndGlyphs">29151.0</text>
<text x="160.9" y="37" font-family="&quot;DejaVu Sans&quot;, &quot;Liberation Sans&quot;, sans-serif" font-size="9" fill="#000" stroke="#000" stroke-width="0.3" textLength="32.4" lengthAdjust="spacingAndGlyphs">29151.0</text>
<g shape-rendering="crispEdges" fill="#000">
<rect x="0" y="25" width="1613" height="1"/>
<rect x="1612" y="25" width="1" height="902"/>
<rect x="0" y="578" width="1613" height="1"/>
<rect x="0" y="580" width="1613" height="1"/>
<rect x="0" y="750" width="1613" height="1"/>
<rect x="0" y="752" width="1613" height="1"/>
<rect x="0" y="926" width="1613" height="1"/>
</g>
<rect x="1658" y="21" width="1" height="927" fill="#e3e3e3"/>
<rect x="0" y="947" width="1659" height="1" fill="#e3e3e3"/>
<rect x="1613" y="47" width="3" height="1" fill="#000" shape-rendering="crispEdges"/>
<text x="1618" y="51" font-family="&quot;DejaVu Sans&quot;, &quot;Liberation Sans&quot;, sans-serif" font-size="9" fill="#000" stroke="#000" stroke-width="0.3" textLength="33" lengthAdjust="spacingAndGlyphs">29554.5</text>
<rect x="1613" y="80" width="3" height="1" fill="#000" shape-rendering="crispEdges"/>
<text x="1618" y="84" font-family="&quot;DejaVu Sans&quot;, &quot;Liberation Sans&quot;, sans-serif" font-size="9" fill="#000" stroke="#000" stroke-width="0.3" textLength="33" lengthAdjust="spacingAndGlyphs">29462.0</text>
<rect x="1613" y="113" width="3" height="1" fill="#000" shape-rendering="crispEdges"/>
<text x="1618" y="117" font-family="&quot;DejaVu Sans&quot;, &quot;Liberation Sans&quot;, sans-serif" font-size="9" fill="#000" stroke="#000" stroke-width="0.3" textLength="33" lengthAdjust="spacingAndGlyphs">29369.5</text>
<rect x="1613" y="146" width="3" height="1" fill="#000" shape-rendering="crispEdges"/>
<text x="1618" y="150" font-family="&quot;DejaVu Sans&quot;, &quot;Liberation Sans&quot;, sans-serif" font-size="9" fill="#000" stroke="#000" stroke-width="0.3" textLength="33" lengthAdjust="spacingAndGlyphs">29277.0</text>
<rect x="1613" y="179" width="3" height="1" fill="#000" shape-rendering="crispEdges"/>
<text x="1618" y="183" font-family="&quot;DejaVu Sans&quot;, &quot;Liberation Sans&quot;, sans-serif" font-size="9" fill="#000" stroke="#000" stroke-width="0.3" textLength="33" lengthAdjust="spacingAndGlyphs">29184.5</text>
<rect x="1613" y="212" width="3" height="1" fill="#000" shape-rendering="crispEdges"/>
<text x="1618" y="216" font-family="&quot;DejaVu Sans&quot;, &quot;Liberation Sans&quot;, sans-serif" font-size="9" fill="#000" stroke="#000" stroke-width="0.3" textLength="33" lengthAdjust="spacingAndGlyphs">29092.0</text>
<rect x="1613" y="245" width="3" height="1" fill="#000" shape-rendering="crispEdges"/>
<text x="1618" y="249" font-family="&quot;DejaVu Sans&quot;, &quot;Liberation Sans&quot;, sans-serif" font-size="9" fill="#000" stroke="#000" stroke-width="0.3" textLength="33" lengthAdjust="spacingAndGlyphs">28999.5</text>
<rect x="1613" y="278" width="3" height="1" fill="#000" shape-rendering="crispEdges"/>
<text x="1618" y="282" font-family="&quot;DejaVu Sans&quot;, &quot;Liberation Sans&quot;, sans-serif" font-size="9" fill="#000" stroke="#000" stroke-width="0.3" textLength="33" lengthAdjust="spacingAndGlyphs">28907.0</text>
<rect x="1613" y="311" width="3" height="1" fill="#000" shape-rendering="crispEdges"/>
<text x="1618" y="315" font-family="&quot;DejaVu Sans&quot;, &quot;Liberation Sans&quot;, sans-serif" font-size="9" fill="#000" stroke="#000" stroke-width="0.3" textLength="33" lengthAdjust="spacingAndGlyphs">28814.5</text>
<rect x="1613" y="344" width="3" height="1" fill="#000" shape-rendering="crispEdges"/>
<text x="1618" y="348" font-family="&quot;DejaVu Sans&quot;, &quot;Liberation Sans&quot;, sans-serif" font-size="9" fill="#000" stroke="#000" stroke-width="0.3" textLength="33" lengthAdjust="spacingAndGlyphs">28722.0</text>
<rect x="1613" y="377" width="3" height="1" fill="#000" shape-rendering="crispEdges"/>
<text x="1618" y="381" font-family="&quot;DejaVu Sans&quot;, &quot;Liberation Sans&quot;, sans-serif" font-size="9" fill="#000" stroke="#000" stroke-width="0.3" textLength="33" lengthAdjust="spacingAndGlyphs">28629.5</text>
<rect x="1613" y="410" width="3" height="1" fill="#000" shape-rendering="crispEdges"/>
<text x="1618" y="414" font-family="&quot;DejaVu Sans&quot;, &quot;Liberation Sans&quot;, sans-serif" font-size="9" fill="#000" stroke="#000" stroke-width="0.3" textLength="33" lengthAdjust="spacingAndGlyphs">28537.0</text>
<rect x="1613" y="443" width="3" height="1" fill="#000" shape-rendering="crispEdges"/>
<text x="1618" y="447" font-family="&quot;DejaVu Sans&quot;, &quot;Liberation Sans&quot;, sans-serif" font-size="9" fill="#000" stroke="#000" stroke-width="0.3" textLength="33" lengthAdjust="spacingAndGlyphs">28444.5</text>
<rect x="1613" y="476" width="3" height="1" fill="#000" shape-rendering="crispEdges"/>
<text x="1618" y="480" font-family="&quot;DejaVu Sans&quot;, &quot;Liberation Sans&quot;, sans-serif" font-size="9" fill="#000" stroke="#000" stroke-width="0.3" textLength="33" lengthAdjust="spacingAndGlyphs">28352.0</text>
<rect x="1613" y="509" width="3" height="1" fill="#000" shape-rendering="crispEdges"/>
<text x="1618" y="513" font-family="&quot;DejaVu Sans&quot;, &quot;Liberation Sans&quot;, sans-serif" font-size="9" fill="#000" stroke="#000" stroke-width="0.3" textLength="33" lengthAdjust="spacingAndGlyphs">28259.5</text>
<rect x="1613" y="542" width="3" height="1" fill="#000" shape-rendering="crispEdges"/>
<text x="1618" y="546" font-family="&quot;DejaVu Sans&quot;, &quot;Liberation Sans&quot;, sans-serif" font-size="9" fill="#000" stroke="#000" stroke-width="0.3" textLength="33" lengthAdjust="spacingAndGlyphs">28167.0</text>
<rect x="1613" y="575" width="3" height="1" fill="#000" shape-rendering="crispEdges"/>
<text x="1618" y="579" font-family="&quot;DejaVu Sans&quot;, &quot;Liberation Sans&quot;, sans-serif" font-size="9" fill="#000" stroke="#000" stroke-width="0.3" textLength="33" lengthAdjust="spacingAndGlyphs">28074.5</text>
<rect x="1614" y="114" width="41" height="11" fill="#ff0000" shape-rendering="crispEdges"/>
<text x="1618.3" y="122.7" font-family="&quot;DejaVu Sans&quot;, &quot;Liberation Sans&quot;, sans-serif" font-size="9" fill="#fff" stroke="#fff" stroke-width="0.3" textLength="32.4" lengthAdjust="spacingAndGlyphs">29348.1</text>
<rect x="1614" y="141" width="41" height="11" fill="#ff0000" shape-rendering="crispEdges"/>
<text x="1618.3" y="149.7" font-family="&quot;DejaVu Sans&quot;, &quot;Liberation Sans&quot;, sans-serif" font-size="9" fill="#fff" stroke="#fff" stroke-width="0.3" textLength="32.4" lengthAdjust="spacingAndGlyphs">29272.6</text>
<rect x="1614" y="163" width="41" height="11" fill="#32cd32" shape-rendering="crispEdges"/>
<text x="1618.3" y="171.7" font-family="&quot;DejaVu Sans&quot;, &quot;Liberation Sans&quot;, sans-serif" font-size="9" fill="#fff" stroke="#fff" stroke-width="0.3" textLength="32.4" lengthAdjust="spacingAndGlyphs">29211.0</text>
<rect x="1614" y="186" width="41" height="11" fill="#000000" shape-rendering="crispEdges"/>
<text x="1618.3" y="194.7" font-family="&quot;DejaVu Sans&quot;, &quot;Liberation Sans&quot;, sans-serif" font-size="9" fill="#fff" stroke="#fff" stroke-width="0.3" textLength="32.4" lengthAdjust="spacingAndGlyphs">29151.0</text>
<rect x="1614" y="215" width="41" height="11" fill="#0000ff" shape-rendering="crispEdges"/>
<text x="1618.3" y="223.7" font-family="&quot;DejaVu Sans&quot;, &quot;Liberation Sans&quot;, sans-serif" font-size="9" fill="#fff" stroke="#fff" stroke-width="0.3" textLength="32.4" lengthAdjust="spacingAndGlyphs">29065.6</text>
<rect x="1614" y="250" width="41" height="11" fill="#0000ff" shape-rendering="crispEdges"/>
<text x="1618.3" y="258.7" font-family="&quot;DejaVu Sans&quot;, &quot;Liberation Sans&quot;, sans-serif" font-size="9" fill="#fff" stroke="#fff" stroke-width="0.3" textLength="32.4" lengthAdjust="spacingAndGlyphs">28967.7</text>
<g clip-path="url(#cd)" shape-rendering="crispEdges">
<rect x="1" y="656" width="1" height="19" fill="#c0c0c0"/>
<rect x="9" y="658" width="1" height="17" fill="#c0c0c0"/>
<rect x="17" y="660" width="1" height="15" fill="#c0c0c0"/>
<rect x="25" y="660" width="1" height="15" fill="#c0c0c0"/>
<rect x="33" y="660" width="1" height="15" fill="#c0c0c0"/>
<rect x="41" y="655" width="1" height="20" fill="#c0c0c0"/>
<rect x="49" y="652" width="1" height="23" fill="#c0c0c0"/>
<rect x="57" y="650" width="1" height="25" fill="#c0c0c0"/>
<rect x="65" y="649" width="1" height="26" fill="#c0c0c0"/>
<rect x="73" y="647" width="1" height="28" fill="#c0c0c0"/>
<rect x="81" y="644" width="1" height="31" fill="#c0c0c0"/>
<rect x="89" y="642" width="1" height="33" fill="#c0c0c0"/>
<rect x="97" y="640" width="1" height="35" fill="#c0c0c0"/>
<rect x="105" y="635" width="1" height="40" fill="#c0c0c0"/>
<rect x="113" y="631" width="1" height="44" fill="#c0c0c0"/>
<rect x="121" y="628" width="1" height="47" fill="#c0c0c0"/>
<rect x="129" y="626" width="1" height="49" fill="#c0c0c0"/>
<rect x="137" y="625" width="1" height="50" fill="#c0c0c0"/>
<rect x="145" y="626" width="1" height="49" fill="#c0c0c0"/>
<rect x="153" y="627" width="1" height="48" fill="#c0c0c0"/>
<rect x="161" y="627" width="1" height="48" fill="#c0c0c0"/>
<rect x="169" y="629" width="1" height="46" fill="#c0c0c0"/>
<rect x="177" y="631" width="1" height="44" fill="#c0c0c0"/>
<rect x="185" y="633" width="1" height="42" fill="#c0c0c0"/>
<rect x="193" y="636" width="1" height="39" fill="#c0c0c0"/>
<rect x="201" y="637" width="1" height="38" fill="#c0c0c0"/>
<rect x="209" y="639" width="1" height="36" fill="#c0c0c0"/>
<rect x="217" y="645" width="1" height="30" fill="#c0c0c0"/>
<rect x="225" y="648" width="1" height="27" fill="#c0c0c0"/>
<rect x="233" y="650" width="1" height="25" fill="#c0c0c0"/>
<rect x="241" y="653" width="1" height="22" fill="#c0c0c0"/>
<rect x="249" y="658" width="1" height="17" fill="#c0c0c0"/>
<rect x="257" y="660" width="1" height="15" fill="#c0c0c0"/>
<rect x="265" y="659" width="1" height="16" fill="#c0c0c0"/>
<rect x="273" y="659" width="1" height="16" fill="#c0c0c0"/>
<rect x="281" y="659" width="1" height="16" fill="#c0c0c0"/>
<rect x="289" y="660" width="1" height="15" fill="#c0c0c0"/>
<rect x="297" y="663" width="1" height="12" fill="#c0c0c0"/>
<rect x="305" y="668" width="1" height="7" fill="#c0c0c0"/>
<rect x="313" y="673" width="1" height="2" fill="#c0c0c0"/>
<rect x="321" y="674" width="1" height="1" fill="#c0c0c0"/>
<rect x="329" y="674" width="1" height="2" fill="#c0c0c0"/>
<rect x="337" y="674" width="1" height="7" fill="#c0c0c0"/>
<rect x="345" y="674" width="1" height="7" fill="#c0c0c0"/>
<rect x="353" y="674" width="1" height="6" fill="#c0c0c0"/>
<rect x="361" y="674" width="1" height="6" fill="#c0c0c0"/>
<rect x="369" y="674" width="1" height="5" fill="#c0c0c0"/>
<rect x="377" y="674" width="1" height="3" fill="#c0c0c0"/>
<rect x="385" y="674" width="1" height="4" fill="#c0c0c0"/>
<rect x="393" y="674" width="1" height="10" fill="#c0c0c0"/>
<rect x="401" y="674" width="1" height="15" fill="#c0c0c0"/>
<rect x="409" y="674" width="1" height="28" fill="#c0c0c0"/>
<rect x="417" y="674" width="1" height="37" fill="#c0c0c0"/>
<rect x="425" y="674" width="1" height="44" fill="#c0c0c0"/>
<rect x="433" y="674" width="1" height="54" fill="#c0c0c0"/>
<rect x="441" y="674" width="1" height="61" fill="#c0c0c0"/>
<rect x="449" y="674" width="1" height="65" fill="#c0c0c0"/>
<rect x="457" y="674" width="1" height="67" fill="#c0c0c0"/>
<rect x="465" y="674" width="1" height="67" fill="#c0c0c0"/>
<rect x="473" y="674" width="1" height="64" fill="#c0c0c0"/>
<rect x="481" y="674" width="1" height="62" fill="#c0c0c0"/>
<rect x="489" y="674" width="1" height="57" fill="#c0c0c0"/>
<rect x="497" y="674" width="1" height="51" fill="#c0c0c0"/>
<rect x="505" y="674" width="1" height="48" fill="#c0c0c0"/>
<rect x="513" y="674" width="1" height="41" fill="#c0c0c0"/>
<rect x="521" y="674" width="1" height="36" fill="#c0c0c0"/>
<rect x="529" y="674" width="1" height="30" fill="#c0c0c0"/>
<rect x="537" y="674" width="1" height="25" fill="#c0c0c0"/>
<rect x="545" y="674" width="1" height="22" fill="#c0c0c0"/>
<rect x="553" y="674" width="1" height="22" fill="#c0c0c0"/>
<rect x="561" y="674" width="1" height="27" fill="#c0c0c0"/>
<rect x="569" y="674" width="1" height="32" fill="#c0c0c0"/>
<rect x="577" y="674" width="1" height="35" fill="#c0c0c0"/>
<rect x="585" y="674" width="1" height="39" fill="#c0c0c0"/>
<rect x="593" y="674" width="1" height="36" fill="#c0c0c0"/>
<rect x="601" y="674" width="1" height="28" fill="#c0c0c0"/>
<rect x="609" y="674" width="1" height="20" fill="#c0c0c0"/>
<rect x="617" y="674" width="1" height="16" fill="#c0c0c0"/>
<rect x="625" y="674" width="1" height="16" fill="#c0c0c0"/>
<rect x="633" y="674" width="1" height="23" fill="#c0c0c0"/>
<rect x="641" y="674" width="1" height="34" fill="#c0c0c0"/>
<rect x="649" y="674" width="1" height="43" fill="#c0c0c0"/>
<rect x="657" y="674" width="1" height="48" fill="#c0c0c0"/>
<rect x="665" y="674" width="1" height="48" fill="#c0c0c0"/>
<rect x="673" y="674" width="1" height="49" fill="#c0c0c0"/>
<rect x="681" y="674" width="1" height="49" fill="#c0c0c0"/>
<rect x="689" y="674" width="1" height="44" fill="#c0c0c0"/>
<rect x="697" y="674" width="1" height="43" fill="#c0c0c0"/>
<rect x="705" y="674" width="1" height="42" fill="#c0c0c0"/>
<rect x="713" y="674" width="1" height="36" fill="#c0c0c0"/>
<rect x="721" y="674" width="1" height="29" fill="#c0c0c0"/>
<rect x="729" y="674" width="1" height="20" fill="#c0c0c0"/>
<rect x="737" y="674" width="1" height="9" fill="#c0c0c0"/>
<rect x="753" y="669" width="1" height="6" fill="#c0c0c0"/>
<rect x="761" y="664" width="1" height="11" fill="#c0c0c0"/>
<rect x="769" y="662" width="1" height="13" fill="#c0c0c0"/>
<rect x="777" y="651" width="1" height="24" fill="#c0c0c0"/>
<rect x="785" y="642" width="1" height="33" fill="#c0c0c0"/>
<rect x="793" y="630" width="1" height="45" fill="#c0c0c0"/>
<rect x="801" y="620" width="1" height="55" fill="#c0c0c0"/>
<rect x="809" y="608" width="1" height="67" fill="#c0c0c0"/>
<rect x="817" y="597" width="1" height="78" fill="#c0c0c0"/>
<rect x="825" y="591" width="1" height="84" fill="#c0c0c0"/>
<rect x="833" y="591" width="1" height="84" fill="#c0c0c0"/>
<rect x="841" y="591" width="1" height="84" fill="#c0c0c0"/>
<rect x="849" y="590" width="1" height="85" fill="#c0c0c0"/>
<rect x="857" y="593" width="1" height="82" fill="#c0c0c0"/>
<rect x="865" y="596" width="1" height="79" fill="#c0c0c0"/>
<rect x="873" y="601" width="1" height="74" fill="#c0c0c0"/>
<rect x="881" y="609" width="1" height="66" fill="#c0c0c0"/>
<rect x="889" y="618" width="1" height="57" fill="#c0c0c0"/>
<rect x="897" y="627" width="1" height="48" fill="#c0c0c0"/>
<rect x="905" y="638" width="1" height="37" fill="#c0c0c0"/>
<rect x="913" y="642" width="1" height="33" fill="#c0c0c0"/>
<rect x="921" y="647" width="1" height="28" fill="#c0c0c0"/>
<rect x="929" y="651" width="1" height="24" fill="#c0c0c0"/>
<rect x="937" y="651" width="1" height="24" fill="#c0c0c0"/>
<rect x="945" y="651" width="1" height="24" fill="#c0c0c0"/>
<rect x="953" y="648" width="1" height="27" fill="#c0c0c0"/>
<rect x="961" y="644" width="1" height="31" fill="#c0c0c0"/>
<rect x="969" y="641" width="1" height="34" fill="#c0c0c0"/>
<rect x="977" y="639" width="1" height="36" fill="#c0c0c0"/>
<rect x="985" y="638" width="1" height="37" fill="#c0c0c0"/>
<rect x="993" y="641" width="1" height="34" fill="#c0c0c0"/>
<rect x="1001" y="642" width="1" height="33" fill="#c0c0c0"/>
<rect x="1009" y="643" width="1" height="32" fill="#c0c0c0"/>
<rect x="1017" y="643" width="1" height="32" fill="#c0c0c0"/>
<rect x="1025" y="641" width="1" height="34" fill="#c0c0c0"/>
<rect x="1033" y="639" width="1" height="36" fill="#c0c0c0"/>
<rect x="1041" y="636" width="1" height="39" fill="#c0c0c0"/>
<rect x="1049" y="635" width="1" height="40" fill="#c0c0c0"/>
<rect x="1057" y="635" width="1" height="40" fill="#c0c0c0"/>
<rect x="1065" y="637" width="1" height="38" fill="#c0c0c0"/>
<rect x="1073" y="641" width="1" height="34" fill="#c0c0c0"/>
<rect x="1081" y="640" width="1" height="35" fill="#c0c0c0"/>
<rect x="1089" y="639" width="1" height="36" fill="#c0c0c0"/>
<rect x="1097" y="641" width="1" height="34" fill="#c0c0c0"/>
<rect x="1105" y="640" width="1" height="35" fill="#c0c0c0"/>
<rect x="1113" y="640" width="1" height="35" fill="#c0c0c0"/>
<rect x="1121" y="641" width="1" height="34" fill="#c0c0c0"/>
<rect x="1129" y="644" width="1" height="31" fill="#c0c0c0"/>
<rect x="1137" y="649" width="1" height="26" fill="#c0c0c0"/>
<rect x="1145" y="651" width="1" height="24" fill="#c0c0c0"/>
<rect x="1153" y="651" width="1" height="24" fill="#c0c0c0"/>
<rect x="1161" y="651" width="1" height="24" fill="#c0c0c0"/>
<rect x="1169" y="651" width="1" height="24" fill="#c0c0c0"/>
<rect x="1177" y="652" width="1" height="23" fill="#c0c0c0"/>
<rect x="1185" y="653" width="1" height="22" fill="#c0c0c0"/>
<rect x="1193" y="653" width="1" height="22" fill="#c0c0c0"/>
<rect x="1201" y="657" width="1" height="18" fill="#c0c0c0"/>
<rect x="1209" y="663" width="1" height="12" fill="#c0c0c0"/>
<rect x="1217" y="669" width="1" height="6" fill="#c0c0c0"/>
<rect x="1225" y="674" width="1" height="1" fill="#c0c0c0"/>
<rect x="1233" y="674" width="1" height="5" fill="#c0c0c0"/>
<rect x="1241" y="674" width="1" height="8" fill="#c0c0c0"/>
<rect x="1249" y="674" width="1" height="8" fill="#c0c0c0"/>
<rect x="1257" y="674" width="1" height="7" fill="#c0c0c0"/>
<rect x="1265" y="674" width="1" height="7" fill="#c0c0c0"/>
<rect x="1273" y="674" width="1" height="7" fill="#c0c0c0"/>
<rect x="1281" y="674" width="1" height="6" fill="#c0c0c0"/>
<rect x="1289" y="674" width="1" height="4" fill="#c0c0c0"/>
<rect x="1297" y="674" width="1" height="1" fill="#c0c0c0"/>
<rect x="1305" y="674" width="1" height="3" fill="#c0c0c0"/>
<rect x="1313" y="674" width="1" height="2" fill="#c0c0c0"/>
<rect x="1321" y="674" width="1" height="3" fill="#c0c0c0"/>
<rect x="1329" y="674" width="1" height="3" fill="#c0c0c0"/>
<rect x="1337" y="674" width="1" height="8" fill="#c0c0c0"/>
<rect x="1345" y="674" width="1" height="12" fill="#c0c0c0"/>
<rect x="1353" y="674" width="1" height="14" fill="#c0c0c0"/>
<polyline points="-6.5,654.3 1.5,655.3 9.5,656.3 17.5,657.2 25.5,657.8 33.5,658.3 41.5,658.1 49.5,657.7 57.5,656.9 65.5,656.1 73.5,655.0 81.5,653.5 89.5,651.5 97.5,649.2 105.5,646.4 113.5,643.8 121.5,641.1 129.5,638.4 137.5,635.8 145.5,633.4 153.5,631.5 161.5,629.9 169.5,628.7 177.5,628.3 185.5,628.6 193.5,629.4 201.5,630.6 209.5,632.2 217.5,634.3 225.5,636.6 233.5,639.2 241.5,641.9 249.5,644.8 257.5,647.8 265.5,650.5 273.5,652.9 281.5,655.0 289.5,656.8 297.5,658.5 305.5,660.5 313.5,662.6 321.5,664.5 329.5,666.3 337.5,668.7 345.5,671.2 353.5,673.6 361.5,675.8 369.5,677.6 377.5,678.6 385.5,679.2 393.5,680.2 401.5,681.7 409.5,684.0 417.5,687.3 425.5,691.5 433.5,696.9 441.5,703.2 449.5,710.1 457.5,717.1 465.5,723.5 473.5,728.9 481.5,732.7 489.5,734.9 497.5,735.6 505.5,734.9 513.5,732.6 521.5,729.4 529.5,725.2 537.5,720.6 545.5,716.0 553.5,711.5 561.5,708.1 569.5,706.0 577.5,704.6 585.5,704.4 593.5,704.4 601.5,704.1 609.5,703.5 617.5,702.8 625.5,702.2 633.5,701.8 641.5,702.0 649.5,702.9 657.5,703.9 665.5,705.3 673.5,707.7 681.5,711.0 689.5,714.0 697.5,717.0 705.5,719.1 713.5,719.2 721.5,717.7 729.5,714.5 737.5,710.1 745.5,704.7 753.5,698.6 761.5,692.6 769.5,686.5 777.5,679.3 785.5,671.7 793.5,663.6 801.5,655.4 809.5,647.1 817.5,638.6 825.5,630.0 833.5,622.0 841.5,614.1 849.5,607.4 857.5,601.9 865.5,598.1 873.5,596.0 881.5,596.1 889.5,598.4 897.5,602.3 905.5,607.5 913.5,613.2 921.5,619.5 929.5,625.9 937.5,632.1 945.5,637.6 953.5,642.0 961.5,644.8 969.5,646.4 977.5,646.6 985.5,646.1 993.5,645.4 1001.5,644.4 1009.5,643.4 1017.5,642.5 1025.5,641.7 1033.5,641.2 1041.5,640.6 1049.5,640.1 1057.5,639.8 1065.5,639.4 1073.5,639.3 1081.5,639.0 1089.5,638.6 1097.5,638.5 1105.5,638.6 1113.5,639.1 1121.5,639.7 1129.5,640.7 1137.5,642.0 1145.5,643.1 1153.5,644.2 1161.5,645.6 1169.5,646.8 1177.5,648.2 1185.5,649.6 1193.5,651.0 1201.5,652.5 1209.5,654.1 1217.5,656.2 1225.5,658.9 1233.5,662.0 1241.5,665.4 1249.5,668.8 1257.5,671.9 1265.5,675.0 1273.5,677.6 1281.5,679.5 1289.5,680.4 1297.5,680.4 1305.5,680.2 1313.5,679.5 1321.5,679.0 1329.5,678.6 1337.5,678.7 1345.5,679.2 1353.5,680.1" fill="none" stroke="#ff0000" stroke-width="1" stroke-dasharray="3,3"/>
</g>
<text x="-2" y="592.5" font-family="&quot;DejaVu Sans&quot;, &quot;Liberation Sans&quot;, sans-serif" font-size="9" fill="#000" stroke="#000" stroke-width="0.3" textLength="122.7" lengthAdjust="spacingAndGlyphs">MACD(12,26,9) -36.20 -14.18</text>
<rect x="1613" y="582" width="3" height="1" fill="#000"/>
<text x="1616" y="591" font-family="&quot;DejaVu Sans&quot;, &quot;Liberation Sans&quot;, sans-serif" font-size="9" fill="#000" stroke="#000" stroke-width="0.3" textLength="27.5" lengthAdjust="spacingAndGlyphs">226.15</text>
<rect x="1613" y="674" width="3" height="1" fill="#000"/>
<text x="1616" y="678" font-family="&quot;DejaVu Sans&quot;, &quot;Liberation Sans&quot;, sans-serif" font-size="9" fill="#000" stroke="#000" stroke-width="0.3" textLength="18" lengthAdjust="spacingAndGlyphs">0.00</text>
<rect x="1613" y="749" width="3" height="1" fill="#000"/>
<text x="1616" y="747" font-family="&quot;DejaVu Sans&quot;, &quot;Liberation Sans&quot;, sans-serif" font-size="9" fill="#000" stroke="#000" stroke-width="0.3" textLength="26" lengthAdjust="spacingAndGlyphs">-186.7</text>
<g clip-path="url(#cr)" shape-rendering="crispEdges">
<line x1="0" y1="788.5" x2="1612" y2="788.5" stroke="#c0c0c0" stroke-width="1" stroke-dasharray="3,3"/>
<line x1="0" y1="839.5" x2="1612" y2="839.5" stroke="#c0c0c0" stroke-width="1" stroke-dasharray="3,3"/>
<line x1="0" y1="900.5" x2="1612" y2="900.5" stroke="#c0c0c0" stroke-width="1" stroke-dasharray="3,3"/>
<polyline points="-6.5,822.3 1.5,825.2 9.5,836.1 17.5,835.8 25.5,829.0 33.5,825.8 41.5,808.3 49.5,816.4 57.5,813.8 65.5,814.9 73.5,811.8 81.5,807.7 89.5,804.0 97.5,802.7 105.5,793.2 113.5,795.0 121.5,792.8 129.5,791.7 137.5,796.1 145.5,799.2 153.5,803.8 161.5,800.4 169.5,802.2 177.5,811.5 185.5,810.2 193.5,810.5 201.5,807.4 209.5,813.4 217.5,838.2 225.5,830.3 233.5,828.9 241.5,835.8 249.5,844.2 257.5,840.5 265.5,822.0 273.5,823.4 281.5,824.3 289.5,834.9 297.5,840.4 305.5,858.0 313.5,856.6 321.5,849.6 329.5,847.0 337.5,864.9 345.5,844.0 353.5,838.9 361.5,842.4 369.5,840.3 377.5,832.3 385.5,845.7 393.5,862.7 401.5,863.9 409.5,881.7 417.5,875.5 425.5,878.1 433.5,884.6 441.5,884.4 449.5,880.1 457.5,879.1 465.5,875.2 473.5,862.0 481.5,866.8 489.5,853.0 497.5,849.0 505.5,854.0 513.5,841.0 521.5,845.4 529.5,839.2 537.5,839.2 545.5,842.8 553.5,849.8 561.5,863.6 569.5,868.1 577.5,864.4 585.5,868.2 593.5,847.7 601.5,832.9 609.5,831.0 617.5,838.3 625.5,845.7 633.5,861.2 641.5,869.7 649.5,870.4 657.5,867.7 665.5,856.7 673.5,858.3 681.5,860.3 689.5,844.4 697.5,851.9 705.5,854.5 713.5,839.9 721.5,836.8 729.5,829.7 737.5,823.3 745.5,821.8 753.5,827.5 761.5,826.7 769.5,829.3 777.5,812.9 785.5,811.1 793.5,803.4 801.5,801.8 809.5,796.7 817.5,794.2 825.5,799.7 833.5,811.4 841.5,809.4 849.5,807.3 857.5,814.1 865.5,814.1 873.5,821.8 881.5,830.0 889.5,836.9 897.5,837.9 905.5,848.8 913.5,836.8 921.5,838.0 929.5,838.3 937.5,829.9 945.5,828.1 953.5,822.5 961.5,815.8 969.5,817.6 977.5,818.3 985.5,817.3 993.5,829.0 1001.5,826.2 1009.5,824.4 1017.5,822.3 1025.5,817.1 1033.5,812.2 1041.5,808.2 1049.5,815.4 1057.5,815.5 1065.5,822.2 1073.5,831.6 1081.5,820.1 1089.5,814.7 1097.5,827.1 1105.5,819.9 1113.5,820.4 1121.5,823.1 1129.5,830.1 1137.5,840.3 1145.5,832.1 1153.5,826.9 1161.5,826.9 1169.5,826.2 1177.5,827.8 1185.5,826.5 1193.5,825.6 1201.5,843.0 1209.5,851.2 1217.5,857.7 1225.5,859.2 1233.5,859.5 1241.5,854.7 1249.5,845.5 1257.5,841.5 1265.5,842.4 1273.5,845.2 1281.5,841.0 1289.5,830.8 1297.5,830.6 1305.5,849.9 1313.5,834.0 1321.5,847.5 1329.5,840.8 1337.5,856.3 1345.5,857.6 1353.5,857.3" fill="none" stroke="#1e90ff" stroke-width="1"/>
</g>
<text x="-2" y="764.5" font-family="&quot;DejaVu Sans&quot;, &quot;Liberation Sans&quot;, sans-serif" font-size="9" fill="#000" stroke="#000" stroke-width="0.3" textLength="67" lengthAdjust="spacingAndGlyphs">RSI(14) 39.5398</text>
<rect x="1613" y="754" width="3" height="1" fill="#000"/>
<text x="1616" y="763" font-family="&quot;DejaVu Sans&quot;, &quot;Liberation Sans&quot;, sans-serif" font-size="9" fill="#000" stroke="#000" stroke-width="0.3" textLength="15" lengthAdjust="spacingAndGlyphs">100</text>
<text x="1615" y="792" font-family="&quot;DejaVu Sans&quot;, &quot;Liberation Sans&quot;, sans-serif" font-size="9" fill="#000" stroke="#000" stroke-width="0.3" textLength="10" lengthAdjust="spacingAndGlyphs">80</text>
<text x="1615" y="843" font-family="&quot;DejaVu Sans&quot;, &quot;Liberation Sans&quot;, sans-serif" font-size="9" fill="#000" stroke="#000" stroke-width="0.3" textLength="10" lengthAdjust="spacingAndGlyphs">50</text>
<text x="1615" y="904" font-family="&quot;DejaVu Sans&quot;, &quot;Liberation Sans&quot;, sans-serif" font-size="9" fill="#000" stroke="#000" stroke-width="0.3" textLength="10" lengthAdjust="spacingAndGlyphs">15</text>
<rect x="1613" y="925" width="3" height="1" fill="#000"/>
<text x="1616" y="923" font-family="&quot;DejaVu Sans&quot;, &quot;Liberation Sans&quot;, sans-serif" font-size="9" fill="#000" stroke="#000" stroke-width="0.3" textLength="5" lengthAdjust="spacingAndGlyphs">0</text>
<g shape-rendering="crispEdges">
<rect x="57" y="927" width="1" height="3" fill="#000"/>
<text x="56.5" y="939" font-family="&quot;DejaVu Sans&quot;, &quot;Liberation Sans&quot;, sans-serif" font-size="9" fill="#000" stroke="#000" stroke-width="0.3" textLength="52" lengthAdjust="spacingAndGlyphs">15 Jan 20:00</text>
<rect x="121" y="927" width="1" height="3" fill="#000"/>
<text x="120.5" y="939" font-family="&quot;DejaVu Sans&quot;, &quot;Liberation Sans&quot;, sans-serif" font-size="9" fill="#000" stroke="#000" stroke-width="0.3" textLength="52" lengthAdjust="spacingAndGlyphs">17 Jan 04:00</text>
<rect x="185" y="927" width="1" height="3" fill="#000"/>
<text x="184.5" y="939" font-family="&quot;DejaVu Sans&quot;, &quot;Liberation Sans&quot;, sans-serif" font-size="9" fill="#000" stroke="#000" stroke-width="0.3" textLength="52" lengthAdjust="spacingAndGlyphs">20 Jan 08:00</text>
<rect x="249" y="927" width="1" height="3" fill="#000"/>
<text x="248.5" y="939" font-family="&quot;DejaVu Sans&quot;, &quot;Liberation Sans&quot;, sans-serif" font-size="9" fill="#000" stroke="#000" stroke-width="0.3" textLength="52" lengthAdjust="spacingAndGlyphs">21 Jan 16:00</text>
<rect x="313" y="927" width="1" height="3" fill="#000"/>
<text x="312.5" y="939" font-family="&quot;DejaVu Sans&quot;, &quot;Liberation Sans&quot;, sans-serif" font-size="9" fill="#000" stroke="#000" stroke-width="0.3" textLength="52" lengthAdjust="spacingAndGlyphs">23 Jan 00:00</text>
<rect x="377" y="927" width="1" height="3" fill="#000"/>
<text x="376.5" y="939" font-family="&quot;DejaVu Sans&quot;, &quot;Liberation Sans&quot;, sans-serif" font-size="9" fill="#000" stroke="#000" stroke-width="0.3" textLength="52" lengthAdjust="spacingAndGlyphs">24 Jan 08:00</text>
<rect x="441" y="927" width="1" height="3" fill="#000"/>
<text x="440.5" y="939" font-family="&quot;DejaVu Sans&quot;, &quot;Liberation Sans&quot;, sans-serif" font-size="9" fill="#000" stroke="#000" stroke-width="0.3" textLength="52" lengthAdjust="spacingAndGlyphs">27 Jan 12:00</text>
<rect x="505" y="927" width="1" height="3" fill="#000"/>
<text x="504.5" y="939" font-family="&quot;DejaVu Sans&quot;, &quot;Liberation Sans&quot;, sans-serif" font-size="9" fill="#000" stroke="#000" stroke-width="0.3" textLength="52" lengthAdjust="spacingAndGlyphs">28 Jan 20:00</text>
<rect x="569" y="927" width="1" height="3" fill="#000"/>
<text x="568.5" y="939" font-family="&quot;DejaVu Sans&quot;, &quot;Liberation Sans&quot;, sans-serif" font-size="9" fill="#000" stroke="#000" stroke-width="0.3" textLength="52" lengthAdjust="spacingAndGlyphs">30 Jan 04:00</text>
<rect x="633" y="927" width="1" height="3" fill="#000"/>
<text x="632.5" y="939" font-family="&quot;DejaVu Sans&quot;, &quot;Liberation Sans&quot;, sans-serif" font-size="9" fill="#000" stroke="#000" stroke-width="0.3" textLength="52" lengthAdjust="spacingAndGlyphs">31 Jan 12:00</text>
<rect x="697" y="927" width="1" height="3" fill="#000"/>
<text x="696.5" y="939" font-family="&quot;DejaVu Sans&quot;, &quot;Liberation Sans&quot;, sans-serif" font-size="9" fill="#000" stroke="#000" stroke-width="0.3" textLength="47" lengthAdjust="spacingAndGlyphs">3 Feb 16:00</text>
<rect x="761" y="927" width="1" height="3" fill="#000"/>
<text x="760.5" y="939" font-family="&quot;DejaVu Sans&quot;, &quot;Liberation Sans&quot;, sans-serif" font-size="9" fill="#000" stroke="#000" stroke-width="0.3" textLength="47" lengthAdjust="spacingAndGlyphs">5 Feb 00:00</text>
<rect x="825" y="927" width="1" height="3" fill="#000"/>
<text x="824.5" y="939" font-family="&quot;DejaVu Sans&quot;, &quot;Liberation Sans&quot;, sans-serif" font-size="9" fill="#000" stroke="#000" stroke-width="0.3" textLength="47" lengthAdjust="spacingAndGlyphs">6 Feb 08:00</text>
<rect x="889" y="927" width="1" height="3" fill="#000"/>
<text x="888.5" y="939" font-family="&quot;DejaVu Sans&quot;, &quot;Liberation Sans&quot;, sans-serif" font-size="9" fill="#000" stroke="#000" stroke-width="0.3" textLength="47" lengthAdjust="spacingAndGlyphs">7 Feb 16:00</text>
<rect x="953" y="927" width="1" height="3" fill="#000"/>
<text x="952.5" y="939" font-family="&quot;DejaVu Sans&quot;, &quot;Liberation Sans&quot;, sans-serif" font-size="9" fill="#000" stroke="#000" stroke-width="0.3" textLength="52" lengthAdjust="spacingAndGlyphs">10 Feb 20:00</text>
<rect x="1017" y="927" width="1" height="3" fill="#000"/>
<text x="1016.5" y="939" font-family="&quot;DejaVu Sans&quot;, &quot;Liberation Sans&quot;, sans-serif" font-size="9" fill="#000" stroke="#000" stroke-width="0.3" textLength="52" lengthAdjust="spacingAndGlyphs">12 Feb 04:00</text>
<rect x="1081" y="927" width="1" height="3" fill="#000"/>
<text x="1080.5" y="939" font-family="&quot;DejaVu Sans&quot;, &quot;Liberation Sans&quot;, sans-serif" font-size="9" fill="#000" stroke="#000" stroke-width="0.3" textLength="52" lengthAdjust="spacingAndGlyphs">13 Feb 12:00</text>
<rect x="1145" y="927" width="1" height="3" fill="#000"/>
<text x="1144.5" y="939" font-family="&quot;DejaVu Sans&quot;, &quot;Liberation Sans&quot;, sans-serif" font-size="9" fill="#000" stroke="#000" stroke-width="0.3" textLength="52" lengthAdjust="spacingAndGlyphs">14 Feb 20:00</text>
<rect x="1209" y="927" width="1" height="3" fill="#000"/>
<text x="1208.5" y="939" font-family="&quot;DejaVu Sans&quot;, &quot;Liberation Sans&quot;, sans-serif" font-size="9" fill="#000" stroke="#000" stroke-width="0.3" textLength="52" lengthAdjust="spacingAndGlyphs">18 Feb 00:00</text>
<rect x="1273" y="927" width="1" height="3" fill="#000"/>
<text x="1272.5" y="939" font-family="&quot;DejaVu Sans&quot;, &quot;Liberation Sans&quot;, sans-serif" font-size="9" fill="#000" stroke="#000" stroke-width="0.3" textLength="52" lengthAdjust="spacingAndGlyphs">19 Feb 08:00</text>
<rect x="1337" y="927" width="1" height="3" fill="#000"/>
<text x="1336.5" y="939" font-family="&quot;DejaVu Sans&quot;, &quot;Liberation Sans&quot;, sans-serif" font-size="9" fill="#000" stroke="#000" stroke-width="0.3" textLength="52" lengthAdjust="spacingAndGlyphs">20 Feb 16:00</text>
<text x="-7.3" y="939" font-family="&quot;DejaVu Sans&quot;, &quot;Liberation Sans&quot;, sans-serif" font-size="9" fill="#000" stroke="#000" stroke-width="0.3" textLength="48.5" lengthAdjust="spacingAndGlyphs">14 Jan 2020</text>
</g>
<defs><linearGradient id="gtab" x1="0" y1="0" x2="0" y2="1"><stop offset="0" stop-color="#fb5656"/><stop offset="1" stop-color="#e63c3c"/></linearGradient><linearGradient id="gpx" x1="0" y1="0" x2="0" y2="1"><stop offset="0" stop-color="#e33535"/><stop offset="1" stop-color="#b40202"/></linearGradient><linearGradient id="gbtn" x1="0" y1="0" x2="0" y2="1"><stop offset="0" stop-color="#f2f2f2"/><stop offset="0.4" stop-color="#e9e9e9"/><stop offset="0.42" stop-color="#d9d9d9"/><stop offset="1" stop-color="#d2d2d2"/></linearGradient><linearGradient id="gtri" x1="0" y1="0" x2="0" y2="1"><stop offset="0" stop-color="#7088e8"/><stop offset="1" stop-color="#283070"/></linearGradient></defs>
<g shape-rendering="crispEdges">
<rect x="0" y="45" width="48" height="24" fill="url(#gtab)"/>
<rect x="0" y="45" width="48" height="1" fill="#c40000"/>
<rect x="47" y="45" width="1" height="25" fill="#b00000"/>
<rect x="0" y="68" width="44" height="1" fill="#8a0000"/>
<rect x="0" y="69" width="44" height="1" fill="#ef6060"/>
<rect x="0" y="70" width="105" height="39" fill="url(#gpx)"/>
<rect x="47" y="69" width="58" height="1" fill="#b00000"/>
<rect x="44" y="68" width="3" height="2" fill="#e43a3a"/>
<rect x="0" y="69" width="0" height="1" fill="#b00000"/>
<rect x="104" y="69" width="1" height="40" fill="#b00000"/>
<rect x="163" y="45" width="52" height="24" fill="url(#gtab)"/>
<rect x="163" y="45" width="52" height="1" fill="#c40000"/>
<rect x="163" y="45" width="1" height="25" fill="#b00000"/>
<rect x="214" y="45" width="1" height="64" fill="#b00000"/>
<rect x="167" y="68" width="44" height="1" fill="#8a0000"/>
<rect x="167" y="69" width="44" height="1" fill="#ef6060"/>
<rect x="107" y="70" width="108" height="39" fill="url(#gpx)"/>
<rect x="211" y="68" width="3" height="2" fill="#e43a3a"/>
<rect x="107" y="69" width="60" height="1" fill="#b00000"/>
<rect x="107" y="69" width="1" height="40" fill="#b00000"/>
<rect x="214" y="69" width="1" height="40" fill="#b00000"/>
<rect x="50" y="45" width="111" height="22" fill="#ffffff"/>
<rect x="50.5" y="45.5" width="110" height="21" fill="none" stroke="#a9acb3" stroke-width="1"/>
<rect x="71" y="45" width="1" height="22" fill="#a9acb3"/>
<rect x="139" y="45" width="1" height="22" fill="#a9acb3"/>
<rect x="52" y="47" width="18" height="18" fill="url(#gbtn)"/>
<rect x="141" y="47" width="18" height="18" fill="url(#gbtn)"/>
</g>
<polygon points="58,54 63,54 60.5,57" fill="url(#gtri)"/>
<polygon points="147.5,57 152.5,57 150,54" fill="url(#gtri)"/>
<text x="112.5" y="60" font-family="&quot;Liberation Sans&quot;, Arial, sans-serif" font-size="12.5" fill="#000" textLength="23.5" lengthAdjust="spacingAndGlyphs">1.00</text>
<text x="8.3" y="61" font-family="&quot;Liberation Sans&quot;, Arial, sans-serif" font-size="12.5" fill="#fff" textLength="25.7" lengthAdjust="spacingAndGlyphs">SELL</text>
<text x="176.5" y="61" font-family="&quot;Liberation Sans&quot;, Arial, sans-serif" font-size="12.5" fill="#fff" textLength="23.3" lengthAdjust="spacingAndGlyphs">BUY</text>
<text x="12.2" y="100.2" font-family="&quot;Liberation Sans&quot;, Arial, sans-serif" font-size="12.3" fill="#fff" textLength="34.2" lengthAdjust="spacingAndGlyphs" font-weight="bold">29149</text>
<text x="122.4" y="100.2" font-family="&quot;Liberation Sans&quot;, Arial, sans-serif" font-size="12.3" fill="#fff" textLength="34.2" lengthAdjust="spacingAndGlyphs" font-weight="bold">29160</text>
<circle cx="53.6" cy="98.4" r="2.3" fill="#fff"/>
<circle cx="164.4" cy="98.4" r="2.3" fill="#fff"/>
<text x="57.6" y="100.3" font-family="&quot;DejaVu Sans&quot;, sans-serif" font-weight="200" font-size="32" fill="#fff" stroke="#fff" stroke-width="0.75" textLength="18" lengthAdjust="spacingAndGlyphs">5</text>
<text x="168.7" y="100.3" font-family="&quot;DejaVu Sans&quot;, sans-serif" font-weight="200" font-size="32" fill="#fff" stroke="#fff" stroke-width="0.75" textLength="18" lengthAdjust="spacingAndGlyphs">5</text>
<rect x="0" y="0" width="1659" height="21" fill="#f0f0f0"/>
<rect x="0" y="21" width="1659" height="1" fill="#a0a0a0"/>
<rect x="0" y="22" width="1659" height="1" fill="#6d6d6d"/>
<rect x="0" y="23" width="1659" height="2" fill="#ffffff"/>
<text x="1.5" y="13" font-family="&quot;Liberation Sans&quot;, &quot;Noto Sans CJK SC&quot;, sans-serif" font-size="12" font-weight="500" fill="#000" textLength="36" lengthAdjust="spacingAndGlyphs">新订单</text>
<text x="154.5" y="13" font-family="&quot;Liberation Sans&quot;, &quot;Noto Sans CJK SC&quot;, sans-serif" font-size="12" font-weight="500" fill="#000" textLength="46.5" lengthAdjust="spacingAndGlyphs">自动交易</text>
<polygon points="50.5,11 56.5,2.5 66,9.5 60,17" fill="#e9c444" stroke="#a5650f" stroke-width="1"/>
<polygon points="52,11 57,4 64,9.5 59,15" fill="#f6dc6a"/>
<rect x="80" y="1.5" width="11" height="9" fill="#1a9cf0" stroke="#1070c8" stroke-width="0.8"/>
<rect x="84" y="4.5" width="6" height="2" fill="#e8f4ff"/>
<path d="M78.5,16 Q77.5,12 81,12 Q82,9 86,9.5 Q89,8 91,11 Q94.5,11.5 94,15 Q94,16.5 92,16.5 L80,16.5 Z" fill="#f4f6fb" stroke="#5a74a8" stroke-width="0.9"/>
<circle cx="114" cy="8.5" r="7.3" fill="none" stroke="#a9c3e8" stroke-width="1"/>
<circle cx="114" cy="8.5" r="5" fill="none" stroke="#6d95d8" stroke-width="1"/>
<circle cx="114" cy="8.5" r="2.6" fill="none" stroke="#8fb7a8" stroke-width="1"/>
<path d="M114,8.5 m0,-7.3 a7.3,7.3 0 0 1 0,14.6" fill="none" stroke="#8cc89a" stroke-width="1.2"/>
<circle cx="114" cy="8.3" r="1.3" fill="#2855c8"/>
<rect x="114" y="8.5" width="1.2" height="8" fill="#22a030"/>
<polygon points="134,8 148,8 145,15 140,17 136,14" fill="#f1d040" stroke="#c8a020" stroke-width="0.6"/>
<ellipse cx="141" cy="5.3" rx="8" ry="2.6" fill="#5cb0e8" stroke="#2a80c0" stroke-width="0.7"/>
<ellipse cx="141" cy="3.5" rx="4" ry="2.4" fill="#7cc4f0"/>
<circle cx="145.5" cy="12.6" r="4" fill="#e02010" stroke="#b01008" stroke-width="0.6"/>
<rect x="144" y="11" width="3.2" height="3.2" fill="#fff"/>
<rect x="209" y="0" width="1" height="19" fill="#a0a0a0"/>
<rect x="213" y="2" width="3" height="1" fill="#b4b4b4"/>
<rect x="213" y="4" width="3" height="1" fill="#b4b4b4"/>
<rect x="213" y="6" width="3" height="1" fill="#b4b4b4"/>
<rect x="213" y="8" width="3" height="1" fill="#b4b4b4"/>
<rect x="213" y="10" width="3" height="1" fill="#b4b4b4"/>
<rect x="213" y="12" width="3" height="1" fill="#b4b4b4"/>
<rect x="213" y="14" width="3" height="1" fill="#b4b4b4"/>
<rect x="213" y="16" width="3" height="1" fill="#b4b4b4"/>
<rect x="213" y="18" width="3" height="1" fill="#b4b4b4"/>
<rect x="248" y="0" width="24" height="19" fill="#f7f7f7"/>
<rect x="400" y="0" width="24" height="19" fill="#f7f7f7"/>
<rect x="428" y="0" width="24" height="19" fill="#f7f7f7"/>
<rect x="588" y="0" width="24" height="19" fill="#f7f7f7"/>
<rect x="1034" y="0" width="24" height="19" fill="#f7f7f7"/>
<rect x="227" y="3" width="1.3" height="14" fill="#555"/>
<rect x="224.5" y="14" width="14" height="1.3" fill="#555"/>
<polygon points="227.65,2 225.5,5 229.8,5" fill="#555"/>
<polygon points="239.5,14.65 236.5,12.5 236.5,16.8" fill="#555"/>
<rect x="233" y="4.5" width="1.3" height="8" fill="#109010"/><rect x="231" y="10.8" width="2.5" height="1.2" fill="#109010"/><rect x="234" y="5" width="2.3" height="1.2" fill="#109010"/>
<rect x="247" y="0" width="1" height="19" fill="#a0a0a0"/>
<rect x="255" y="3" width="1.3" height="14" fill="#555"/>
<rect x="252.5" y="14" width="14" height="1.3" fill="#555"/>
<polygon points="255.65,2 253.5,5 257.8,5" fill="#555"/>
<polygon points="267.5,14.65 264.5,12.5 264.5,16.8" fill="#555"/>
<rect x="261" y="1" width="1.2" height="12" fill="#109010"/><rect x="259" y="3.3" width="5" height="7.5" fill="#50e050" stroke="#109010" stroke-width="0.9"/>
<rect x="283" y="3" width="1.3" height="14" fill="#555"/>
<rect x="280.5" y="14" width="14" height="1.3" fill="#555"/>
<polygon points="283.65,2 281.5,5 285.8,5" fill="#555"/>
<polygon points="295.5,14.65 292.5,12.5 292.5,16.8" fill="#555"/>
<path d="M282.5,11.5 Q286,5 288.5,6 Q290.5,7 293.5,10" fill="none" stroke="#30a030" stroke-width="1.1"/>
<rect x="304" y="0" width="1" height="19" fill="#a0a0a0"/>
<line x1="322.5" y1="10.5" x2="328" y2="16" stroke="#c89a10" stroke-width="2.6"/>
<line x1="322.5" y1="10.5" x2="328" y2="16" stroke="#f0d860" stroke-width="1.2"/>
<circle cx="319" cy="6.8" r="5.5" fill="#dcf0fc" stroke="#3a7cc4" stroke-width="1"/>
<rect x="316" y="6.2" width="6" height="1.5" fill="#4a8cb8"/>
<rect x="318.25" y="3.8" width="1.5" height="6" fill="#4a8cb8"/>
<line x1="350.5" y1="10.5" x2="356" y2="16" stroke="#c89a10" stroke-width="2.6"/>
<line x1="350.5" y1="10.5" x2="356" y2="16" stroke="#f0d860" stroke-width="1.2"/>
<circle cx="347" cy="6.8" r="5.5" fill="#dcf0fc" stroke="#3a7cc4" stroke-width="1"/>
<rect x="344" y="6.2" width="6" height="1.5" fill="#4a8cb8"/>
<rect x="369" y="1" width="8" height="8" fill="#30a020"/>
<rect x="370.5" y="4" width="5" height="3.5" fill="#f4f8ff"/>
<rect x="371.5" y="5.3" width="3" height="0.9" fill="#30a020" opacity="0.6"/>
<rect x="370" y="2" width="1" height="1" fill="#fff"/>
<rect x="377" y="1" width="8" height="8" fill="#2050d8"/>
<rect x="378.5" y="4" width="5" height="3.5" fill="#f4f8ff"/>
<rect x="379.5" y="5.3" width="3" height="0.9" fill="#2050d8" opacity="0.6"/>
<rect x="378" y="2" width="1" height="1" fill="#fff"/>
<rect x="369" y="9" width="8" height="8" fill="#2050d8"/>
<rect x="370.5" y="12" width="5" height="3.5" fill="#f4f8ff"/>
<rect x="371.5" y="13.3" width="3" height="0.9" fill="#2050d8" opacity="0.6"/>
<rect x="370" y="10" width="1" height="1" fill="#fff"/>
<rect x="377" y="9" width="8" height="8" fill="#30a020"/>
<rect x="378.5" y="12" width="5" height="3.5" fill="#f4f8ff"/>
<rect x="379.5" y="13.3" width="3" height="0.9" fill="#30a020" opacity="0.6"/>
<rect x="378" y="10" width="1" height="1" fill="#fff"/>
<rect x="394" y="0" width="1" height="19" fill="#a0a0a0"/>
<rect x="399" y="0" width="1" height="19" fill="#a0a0a0"/>
<rect x="407" y="3" width="1.3" height="14" fill="#555"/>
<rect x="404.5" y="14" width="14" height="1.3" fill="#555"/>
<polygon points="407.65,2 405.5,5 409.8,5" fill="#555"/>
<polygon points="419.5,14.65 416.5,12.5 416.5,16.8" fill="#555"/>
<polygon points="412,5 416.5,8.5 412,12" fill="#50d050" stroke="#109010" stroke-width="0.9"/>
<rect x="427" y="0" width="1" height="19" fill="#a0a0a0"/>
<rect x="435" y="3" width="1.3" height="14" fill="#555"/>
<rect x="432.5" y="14" width="14" height="1.3" fill="#555"/>
<polygon points="435.65,2 433.5,5 437.8,5" fill="#555"/>
<polygon points="447.5,14.65 444.5,12.5 444.5,16.8" fill="#555"/>
<rect x="441" y="3" width="1.3" height="10" fill="#1a6fa0"/><polygon points="442.5,8.5 446,6 446,11" fill="#e05010"/><rect x="445" y="8" width="2.5" height="1.2" fill="#e05010"/>
<rect x="456" y="0" width="1" height="19" fill="#a0a0a0"/>
<path d="M466.5,1.5 L474.5,1.5 L477.5,4.5 L477.5,14.5 L466.5,14.5 Z" fill="#fafafa" stroke="#8a8a8a" stroke-width="0.8"/>
<path d="M470,5 Q468.5,5 468.5,7 L468.5,12" fill="none" stroke="#554" stroke-width="0.9"/>
<path d="M474.5,7.5 h3.5 v3.5 h3.5 v3.5 h-3.5 v3.5 h-3.5 v-3.5 h-3.5 v-3.5 h3.5 z" fill="#30d030" stroke="#109010" stroke-width="0.8"/>
<polygon points="487.6,8 493.20000000000005,8 490.40000000000003,11" fill="#000"/>
<circle cx="512.2" cy="9" r="7.4" fill="#1a68c8"/><circle cx="512.2" cy="9" r="5.2" fill="#f8f8f8"/>
<path d="M511.5,5 L511.5,9.5 L514.5,9.5" fill="none" stroke="#222" stroke-width="1.1"/>
<polygon points="526.8,8 532.4,8 529.5999999999999,11" fill="#000"/>
<rect x="543.5" y="2.5" width="15" height="13" fill="#fff" stroke="#3a70c8" stroke-width="1"/>
<rect x="544" y="3" width="14" height="1.6" fill="#6a98e0"/>
<rect x="544" y="9.6" width="14" height="0.9" fill="#3a70c8"/>
<polyline points="545,8 547,7.5 549,6.5 551,7.3 553,6.2 556,5.8" fill="none" stroke="#b02010" stroke-width="1"/>
<polyline points="545,13.8 547,13 549,13.5 551,12.5 553,11.5 556,13.5" fill="none" stroke="#20a020" stroke-width="1"/>
<polygon points="565.7,8 571.3000000000001,8 568.5,11" fill="#000"/>
<rect x="577" y="0" width="1" height="19" fill="#a0a0a0"/>
<rect x="581" y="2" width="3" height="1" fill="#b4b4b4"/>
<rect x="581" y="4" width="3" height="1" fill="#b4b4b4"/>
<rect x="581" y="6" width="3" height="1" fill="#b4b4b4"/>
<rect x="581" y="8" width="3" height="1" fill="#b4b4b4"/>
<rect x="581" y="10" width="3" height="1" fill="#b4b4b4"/>
<rect x="581" y="12" width="3" height="1" fill="#b4b4b4"/>
<rect x="581" y="14" width="3" height="1" fill="#b4b4b4"/>
<rect x="581" y="16" width="3" height="1" fill="#b4b4b4"/>
<rect x="581" y="18" width="3" height="1" fill="#b4b4b4"/>
<rect x="587" y="0" width="1" height="19" fill="#a0a0a0"/>
<polygon points="595,2 595,12.5 597.5,10.5 600,16 601.8,15.2 599.3,9.8 603,9.6" fill="#4a4a4a"/>
<rect x="627" y="2" width="1.2" height="6.3" fill="#4a4a4a"/><rect x="627" y="10.6" width="1.2" height="6.3" fill="#4a4a4a"/>
<rect x="620" y="8.8" width="6.1" height="1.2" fill="#4a4a4a"/><rect x="629.1" y="8.8" width="6.1" height="1.2" fill="#4a4a4a"/>
<rect x="644" y="0" width="1" height="19" fill="#a0a0a0"/>
<rect x="661" y="3" width="1.3" height="13" fill="#4a4a4a"/>
<rect x="684" y="8.8" width="13" height="1.3" fill="#4a4a4a"/>
<line x1="712" y1="15.5" x2="724" y2="4" stroke="#555" stroke-width="1.2"/>
<line x1="738" y1="10.5" x2="745.5" y2="3" stroke="#555" stroke-width="1"/><line x1="743" y1="16" x2="752" y2="7" stroke="#555" stroke-width="1"/>
<path d="M740,15 L741.5,9 M742.5,13 L744,7 M745,11.5 L746.5,5.5 M748,9 L749.5,1.5" stroke="#444" stroke-width="1.2"/>
<text x="748.8" y="17.8" font-family="&quot;Liberation Sans&quot;, Arial, sans-serif" font-size="7" font-weight="bold" fill="#444">E</text>
<line x1="767" y1="2.4" x2="780" y2="2.4" stroke="#444" stroke-width="1.1" stroke-dasharray="1,1"/>
<line x1="767" y1="5.4" x2="780" y2="5.4" stroke="#444" stroke-width="1.1" stroke-dasharray="1,1"/>
<line x1="767" y1="9.4" x2="780" y2="9.4" stroke="#444" stroke-width="1.1" stroke-dasharray="1,1"/>
<line x1="767" y1="13.2" x2="775.5" y2="13.2" stroke="#444" stroke-width="1.1" stroke-dasharray="1,1"/>
<text x="777" y="17.8" font-family="&quot;Liberation Sans&quot;, Arial, sans-serif" font-size="7" font-weight="bold" fill="#444">F</text>
<text x="797.6" y="13.9" font-family="&quot;Liberation Sans&quot;, Arial, sans-serif" font-size="12" fill="#4a4a4a" textLength="7.8" lengthAdjust="spacingAndGlyphs">A</text>
<rect x="824.5" y="3" width="11.5" height="12.5" fill="none" stroke="#444" stroke-width="0.9" stroke-dasharray="1,1"/>
<rect x="826.5" y="6" width="7.5" height="1.3" fill="#4a4a4a"/><rect x="829.6" y="6" width="1.3" height="7.5" fill="#4a4a4a"/>
<polygon points="850.5,7 854.5,3 858,7" fill="#555"/><polyline points="853.5,9.5 855.5,11.8 860,7.3" fill="none" stroke="#555" stroke-width="1.3"/><polygon points="858,11.5 865,11.5 861.5,16" fill="#555"/>
<polygon points="871.6,8 877.2,8 874.4,11" fill="#000"/>
<rect x="883" y="0" width="1" height="19" fill="#a0a0a0"/>
<rect x="887" y="2" width="3" height="1" fill="#b4b4b4"/>
<rect x="887" y="4" width="3" height="1" fill="#b4b4b4"/>
<rect x="887" y="6" width="3" height="1" fill="#b4b4b4"/>
<rect x="887" y="8" width="3" height="1" fill="#b4b4b4"/>
<rect x="887" y="10" width="3" height="1" fill="#b4b4b4"/>
<rect x="887" y="12" width="3" height="1" fill="#b4b4b4"/>
<rect x="887" y="14" width="3" height="1" fill="#b4b4b4"/>
<rect x="887" y="16" width="3" height="1" fill="#b4b4b4"/>
<rect x="887" y="18" width="3" height="1" fill="#b4b4b4"/>
<text x="898.3" y="13.2" font-family="&quot;DejaVu Sans&quot;, sans-serif" font-size="9" fill="#333" stroke="#333" stroke-width="0.25" textLength="13" lengthAdjust="spacingAndGlyphs">M1</text>
<text x="926.5" y="13.2" font-family="&quot;DejaVu Sans&quot;, sans-serif" font-size="9" fill="#333" stroke="#333" stroke-width="0.25" textLength="12.5" lengthAdjust="spacingAndGlyphs">M5</text>
<text x="952.4" y="13.2" font-family="&quot;DejaVu Sans&quot;, sans-serif" font-size="9" fill="#333" stroke="#333" stroke-width="0.25" textLength="18" lengthAdjust="spacingAndGlyphs">M15</text>
<text x="980.6" y="13.2" font-family="&quot;DejaVu Sans&quot;, sans-serif" font-size="9" fill="#333" stroke="#333" stroke-width="0.25" textLength="17.6" lengthAdjust="spacingAndGlyphs">M30</text>
<text x="1011.2" y="13.2" font-family="&quot;DejaVu Sans&quot;, sans-serif" font-size="9" fill="#333" stroke="#333" stroke-width="0.25" textLength="12" lengthAdjust="spacingAndGlyphs">H1</text>
<text x="1038.6" y="13.2" font-family="&quot;DejaVu Sans&quot;, sans-serif" font-size="9" fill="#333" stroke="#333" stroke-width="0.25" textLength="12.2" lengthAdjust="spacingAndGlyphs">H4</text>
<text x="1067.6" y="13.2" font-family="&quot;DejaVu Sans&quot;, sans-serif" font-size="9" fill="#333" stroke="#333" stroke-width="0.25" textLength="11.8" lengthAdjust="spacingAndGlyphs">D1</text>
<text x="1095" y="13.2" font-family="&quot;DejaVu Sans&quot;, sans-serif" font-size="9" fill="#333" stroke="#333" stroke-width="0.25" textLength="14" lengthAdjust="spacingAndGlyphs">W1</text>
<text x="1121.7" y="13.2" font-family="&quot;DejaVu Sans&quot;, sans-serif" font-size="9" fill="#333" stroke="#333" stroke-width="0.25" textLength="14.9" lengthAdjust="spacingAndGlyphs">MN</text>
<rect x="1033" y="0" width="1" height="19" fill="#a0a0a0"/>
<rect x="1143" y="0" width="1" height="19" fill="#a0a0a0"/>
<circle cx="1614.5" cy="6.4" r="3.5" fill="#fff" stroke="#2060d0" stroke-width="1.3"/>
<line x1="1612" y1="9" x2="1607.5" y2="13.5" stroke="#2a6ad0" stroke-width="2"/>
<ellipse cx="1647.5" cy="6.5" rx="5.5" ry="4.8" fill="#eef0f6" stroke="#8a8a8a" stroke-width="0.8"/>
<ellipse cx="1638.5" cy="9.5" rx="4.8" ry="4" fill="#f2f3f8" stroke="#8a8a8a" stroke-width="0.8"/>
<polygon points="1636,12.5 1635.5,15.5 1639,13" fill="#888"/>
</svg>
</body></html>
